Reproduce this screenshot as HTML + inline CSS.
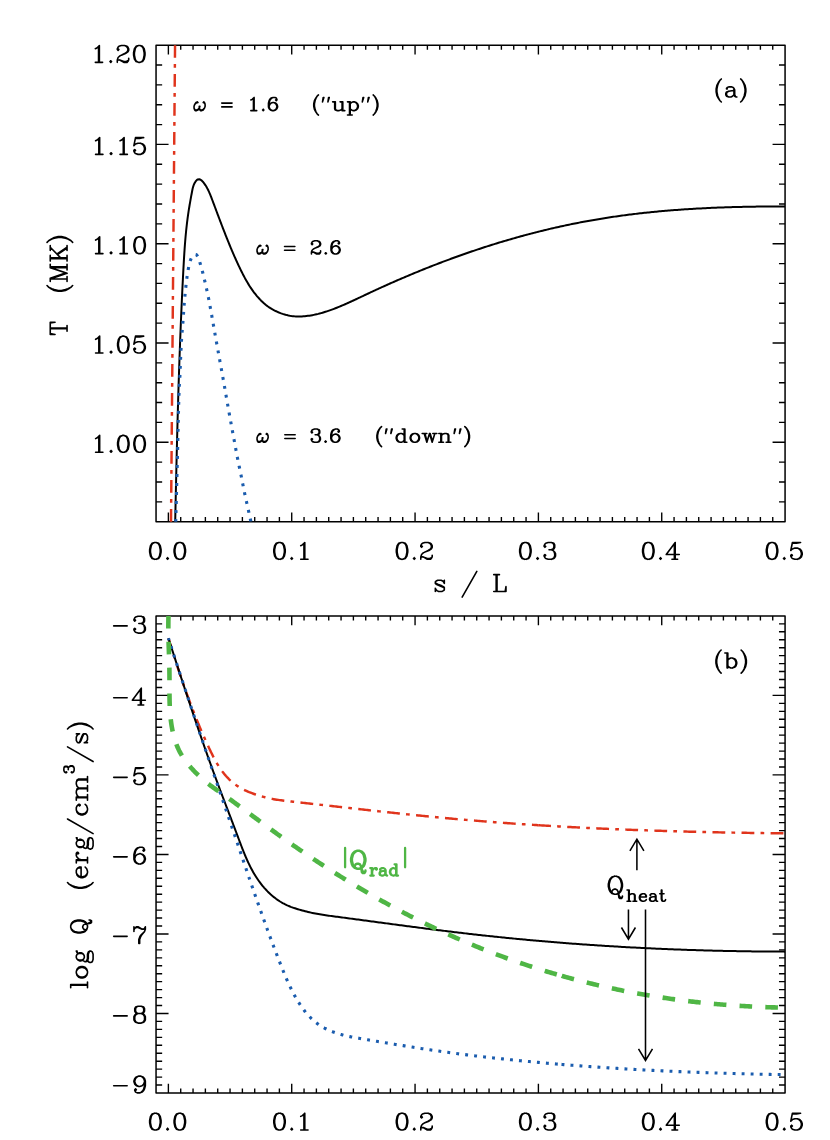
<!DOCTYPE html>
<html><head><meta charset="utf-8"><title>fig</title><style>html,body{margin:0;padding:0;background:#fff}svg{display:block}</style></head><body>
<svg width="830" height="1140" viewBox="0 0 830 1140">
<defs><clipPath id="ca"><rect x="156.05" y="45.15" width="629.02" height="476.55"/></clipPath><clipPath id="cb"><rect x="156.05" y="615.90" width="629.02" height="477.10"/></clipPath></defs>
<rect width="830" height="1140" fill="#fff"/>
<path d="M156.05 442.27 h12.50 M785.07 442.27 h-12.50 M156.05 342.99 h12.50 M785.07 342.99 h-12.50 M156.05 243.71 h12.50 M785.07 243.71 h-12.50 M156.05 144.43 h12.50 M785.07 144.43 h-12.50 M156.05 501.84 h6.10 M785.07 501.84 h-6.10 M156.05 481.99 h6.10 M785.07 481.99 h-6.10 M156.05 462.13 h6.10 M785.07 462.13 h-6.10 M156.05 422.42 h6.10 M785.07 422.42 h-6.10 M156.05 402.56 h6.10 M785.07 402.56 h-6.10 M156.05 382.71 h6.10 M785.07 382.71 h-6.10 M156.05 362.85 h6.10 M785.07 362.85 h-6.10 M156.05 323.14 h6.10 M785.07 323.14 h-6.10 M156.05 303.28 h6.10 M785.07 303.28 h-6.10 M156.05 283.42 h6.10 M785.07 283.42 h-6.10 M156.05 263.57 h6.10 M785.07 263.57 h-6.10 M156.05 223.86 h6.10 M785.07 223.86 h-6.10 M156.05 204.00 h6.10 M785.07 204.00 h-6.10 M156.05 184.14 h6.10 M785.07 184.14 h-6.10 M156.05 164.29 h6.10 M785.07 164.29 h-6.10 M156.05 124.58 h6.10 M785.07 124.58 h-6.10 M156.05 104.72 h6.10 M785.07 104.72 h-6.10 M156.05 84.86 h6.10 M785.07 84.86 h-6.10 M156.05 65.01 h6.10 M785.07 65.01 h-6.10 M168.38 45.15 v9.30 M168.38 521.70 v-9.30 M291.72 45.15 v9.30 M291.72 521.70 v-9.30 M415.06 45.15 v9.30 M415.06 521.70 v-9.30 M538.40 45.15 v9.30 M538.40 521.70 v-9.30 M661.73 45.15 v9.30 M661.73 521.70 v-9.30 M180.72 45.15 v4.60 M180.72 521.70 v-4.60 M193.05 45.15 v4.60 M193.05 521.70 v-4.60 M205.38 45.15 v4.60 M205.38 521.70 v-4.60 M217.72 45.15 v4.60 M217.72 521.70 v-4.60 M230.05 45.15 v4.60 M230.05 521.70 v-4.60 M242.39 45.15 v4.60 M242.39 521.70 v-4.60 M254.72 45.15 v4.60 M254.72 521.70 v-4.60 M267.05 45.15 v4.60 M267.05 521.70 v-4.60 M279.39 45.15 v4.60 M279.39 521.70 v-4.60 M304.05 45.15 v4.60 M304.05 521.70 v-4.60 M316.39 45.15 v4.60 M316.39 521.70 v-4.60 M328.72 45.15 v4.60 M328.72 521.70 v-4.60 M341.06 45.15 v4.60 M341.06 521.70 v-4.60 M353.39 45.15 v4.60 M353.39 521.70 v-4.60 M365.72 45.15 v4.60 M365.72 521.70 v-4.60 M378.06 45.15 v4.60 M378.06 521.70 v-4.60 M390.39 45.15 v4.60 M390.39 521.70 v-4.60 M402.72 45.15 v4.60 M402.72 521.70 v-4.60 M427.39 45.15 v4.60 M427.39 521.70 v-4.60 M439.73 45.15 v4.60 M439.73 521.70 v-4.60 M452.06 45.15 v4.60 M452.06 521.70 v-4.60 M464.39 45.15 v4.60 M464.39 521.70 v-4.60 M476.73 45.15 v4.60 M476.73 521.70 v-4.60 M489.06 45.15 v4.60 M489.06 521.70 v-4.60 M501.39 45.15 v4.60 M501.39 521.70 v-4.60 M513.73 45.15 v4.60 M513.73 521.70 v-4.60 M526.06 45.15 v4.60 M526.06 521.70 v-4.60 M550.73 45.15 v4.60 M550.73 521.70 v-4.60 M563.06 45.15 v4.60 M563.06 521.70 v-4.60 M575.40 45.15 v4.60 M575.40 521.70 v-4.60 M587.73 45.15 v4.60 M587.73 521.70 v-4.60 M600.06 45.15 v4.60 M600.06 521.70 v-4.60 M612.40 45.15 v4.60 M612.40 521.70 v-4.60 M624.73 45.15 v4.60 M624.73 521.70 v-4.60 M637.07 45.15 v4.60 M637.07 521.70 v-4.60 M649.40 45.15 v4.60 M649.40 521.70 v-4.60 M674.07 45.15 v4.60 M674.07 521.70 v-4.60 M686.40 45.15 v4.60 M686.40 521.70 v-4.60 M698.73 45.15 v4.60 M698.73 521.70 v-4.60 M711.07 45.15 v4.60 M711.07 521.70 v-4.60 M723.40 45.15 v4.60 M723.40 521.70 v-4.60 M735.74 45.15 v4.60 M735.74 521.70 v-4.60 M748.07 45.15 v4.60 M748.07 521.70 v-4.60 M760.40 45.15 v4.60 M760.40 521.70 v-4.60 M772.74 45.15 v4.60 M772.74 521.70 v-4.60" fill="none" stroke="#000" stroke-width="1.38" stroke-linecap="butt"/>
<path d="M156.05 45.15 H785.07 V521.70 H156.05 Z" fill="none" stroke="#000" stroke-width="1.50" stroke-linejoin="round"/>
<path d="M171.00 521.70 L175.05 45.15" stroke="#e0341c" stroke-width="2.45" fill="none" stroke-dasharray="12.8 6.2 3.7 6.3"/>
<path d="M175.20 521.70 L175.23 520.20 L175.26 518.70 L175.30 517.21 L175.33 515.71 L175.36 514.21 L175.39 512.71 L175.43 511.21 L175.46 509.72 L175.49 508.22 L175.52 506.72 L175.56 505.22 L175.59 503.72 L175.62 502.23 L175.66 500.73 L175.69 499.23 L175.72 497.73 L175.75 496.23 L175.79 494.73 L175.82 493.24 L175.85 491.74 L175.89 490.24 L175.92 488.74 L175.95 487.24 L175.99 485.75 L176.02 484.25 L176.05 482.75 L176.09 481.25 L176.12 479.75 L176.16 478.26 L176.19 476.76 L176.22 475.26 L176.26 473.76 L176.29 472.26 L176.33 470.77 L176.36 469.27 L176.40 467.77 L176.43 466.27 L176.47 464.77 L176.50 463.28 L176.54 461.78 L176.57 460.28 L176.61 458.78 L176.64 457.28 L176.68 455.79 L176.72 454.29 L176.75 452.79 L176.79 451.29 L176.83 449.79 L176.86 448.30 L176.90 446.80 L176.94 445.30 L176.97 443.80 L177.01 442.30 L177.05 440.81 L177.09 439.31 L177.12 437.81 L177.16 436.31 L177.20 434.82 L177.24 433.32 L177.28 431.82 L177.32 430.32 L177.36 428.82 L177.40 427.33 L177.44 425.83 L177.48 424.33 L177.52 422.83 L177.56 421.33 L177.60 419.84 L177.64 418.34 L177.68 416.84 L177.72 415.34 L177.76 413.84 L177.80 412.35 L177.85 410.85 L177.89 409.35 L177.93 407.85 L177.97 406.36 L178.02 404.86 L178.06 403.36 L178.10 401.86 L178.15 400.36 L178.19 398.87 L178.23 397.37 L178.28 395.87 L178.32 394.37 L178.37 392.88 L178.41 391.38 L178.46 389.88 L178.51 388.38 L178.55 386.89 L178.60 385.39 L178.65 383.89 L178.69 382.39 L178.74 380.89 L178.79 379.40 L178.84 377.90 L178.89 376.40 L178.94 374.90 L178.98 373.41 L179.03 371.91 L179.08 370.41 L179.13 368.91 L179.18 367.42 L179.24 365.92 L179.29 364.42 L179.34 362.92 L179.39 361.43 L179.44 359.93 L179.50 358.43 L179.55 356.93 L179.60 355.44 L179.66 353.94 L179.71 352.44 L179.76 350.94 L179.82 349.45 L179.87 347.95 L179.93 346.45 L179.99 344.95 L180.04 343.46 L180.10 341.96 L180.16 340.46 L180.21 338.96 L180.27 337.47 L180.33 335.97 L180.39 334.47 L180.45 332.98 L180.51 331.48 L180.57 329.98 L180.63 328.48 L180.69 326.99 L180.75 325.49 L180.81 323.99 L180.88 322.50 L180.94 321.00 L181.00 319.50 L181.07 318.00 L181.13 316.51 L181.19 315.01 L181.26 313.51 L181.32 312.02 L181.39 310.52 L181.46 309.02 L181.52 307.53 L181.59 306.03 L181.66 304.53 L181.73 303.03 L181.79 301.54 L181.86 300.04 L181.93 298.54 L182.00 297.05 L182.07 295.55 L182.15 294.05 L182.22 292.56 L182.29 291.06 L182.36 289.56 L182.44 288.07 L182.51 286.57 L182.58 285.07 L182.66 283.58 L182.73 282.08 L182.81 280.58 L182.89 279.09 L182.96 277.59 L183.04 276.10 L183.12 274.60 L183.20 273.10 L183.27 271.61 L183.35 270.11 L183.43 268.61 L183.51 267.12 L183.60 265.62 L183.68 264.13 L183.76 262.63 L183.85 261.13 L183.93 259.64 L184.02 258.14 L184.11 256.65 L184.21 255.15 L184.30 253.65 L184.40 252.16 L184.50 250.66 L184.60 249.17 L184.70 247.67 L184.81 246.18 L184.92 244.69 L185.04 243.19 L185.15 241.70 L185.28 240.20 L185.40 238.71 L185.53 237.22 L185.66 235.73 L185.80 234.23 L185.95 232.74 L186.09 231.25 L186.24 229.76 L186.40 228.27 L186.56 226.78 L186.73 225.29 L186.90 223.80 L187.08 222.32 L187.27 220.83 L187.46 219.34 L187.65 217.86 L187.86 216.37 L188.07 214.89 L188.28 213.41 L188.50 211.92 L188.73 210.44 L188.96 208.96 L189.20 207.48 L189.45 206.01 L189.69 204.53 L189.95 203.05 L190.21 201.57 L190.47 200.10 L190.73 198.62 L191.00 197.15 L191.27 195.68 L191.55 194.20 L191.83 192.73 L192.11 191.26 L192.40 189.79 L192.72 188.33 L193.10 186.88 L193.56 185.45 L194.13 184.07 L194.81 182.73 L195.61 181.46 L196.56 180.30 L197.74 179.41 L199.20 179.19 L200.59 179.73 L201.78 180.64 L202.82 181.71 L203.77 182.87 L204.66 184.08 L205.51 185.32 L206.30 186.59 L207.05 187.88 L207.76 189.21 L208.42 190.55 L209.05 191.91 L209.65 193.28 L210.23 194.66 L210.78 196.05 L211.32 197.45 L211.85 198.85 L212.38 200.26 L212.91 201.66 L213.44 203.06 L213.96 204.46 L214.49 205.87 L215.01 207.27 L215.54 208.67 L216.07 210.08 L216.59 211.48 L217.12 212.88 L217.64 214.29 L218.17 215.69 L218.70 217.09 L219.23 218.49 L219.76 219.89 L220.29 221.30 L220.82 222.70 L221.35 224.10 L221.89 225.50 L222.43 226.90 L222.96 228.29 L223.50 229.69 L224.05 231.09 L224.59 232.48 L225.14 233.88 L225.69 235.27 L226.24 236.67 L226.79 238.06 L227.35 239.45 L227.91 240.84 L228.47 242.23 L229.04 243.62 L229.61 245.00 L230.18 246.39 L230.76 247.77 L231.34 249.15 L231.93 250.53 L232.51 251.91 L233.11 253.28 L233.70 254.66 L234.30 256.03 L234.91 257.40 L235.52 258.77 L236.13 260.14 L236.75 261.50 L237.38 262.86 L238.01 264.22 L238.64 265.58 L239.28 266.93 L239.93 268.29 L240.58 269.64 L241.24 270.98 L241.91 272.32 L242.58 273.66 L243.27 274.99 L243.97 276.32 L244.67 277.64 L245.39 278.95 L246.13 280.26 L246.87 281.56 L247.63 282.85 L248.41 284.13 L249.20 285.41 L250.01 286.67 L250.83 287.92 L251.68 289.16 L252.54 290.38 L253.42 291.60 L254.32 292.79 L255.24 293.97 L256.18 295.14 L257.14 296.29 L258.13 297.42 L259.14 298.53 L260.16 299.62 L261.21 300.69 L262.29 301.73 L263.38 302.75 L264.50 303.73 L265.64 304.69 L266.80 305.60 L267.99 306.48 L269.20 307.33 L270.44 308.14 L271.70 308.91 L272.98 309.65 L274.28 310.35 L275.61 311.02 L276.97 311.65 L278.34 312.25 L279.74 312.81 L281.15 313.34 L282.59 313.84 L284.03 314.30 L285.49 314.72 L286.96 315.10 L288.44 315.43 L289.93 315.71 L291.42 315.95 L292.91 316.14 L294.41 316.29 L295.90 316.39 L297.40 316.45 L298.90 316.48 L300.40 316.46 L301.90 316.41 L303.39 316.32 L304.89 316.20 L306.38 316.04 L307.87 315.86 L309.35 315.65 L310.84 315.41 L312.32 315.15 L313.79 314.86 L315.26 314.55 L316.73 314.22 L318.20 313.87 L319.65 313.49 L321.11 313.10 L322.56 312.69 L324.00 312.25 L325.44 311.81 L326.88 311.34 L328.31 310.87 L329.73 310.37 L331.15 309.87 L332.57 309.35 L333.98 308.82 L335.39 308.28 L336.79 307.72 L338.19 307.16 L339.58 306.59 L340.97 306.01 L342.36 305.42 L343.74 304.83 L345.12 304.23 L346.50 303.62 L347.87 303.01 L349.24 302.39 L350.61 301.76 L351.97 301.14 L353.33 300.51 L354.70 299.87 L356.05 299.24 L357.41 298.60 L358.77 297.96 L360.13 297.32 L361.48 296.68 L362.84 296.04 L364.19 295.40 L365.54 294.76 L366.90 294.12 L368.25 293.48 L369.61 292.84 L370.97 292.21 L372.33 291.58 L373.68 290.95 L375.04 290.32 L376.40 289.69 L377.76 289.07 L379.12 288.44 L380.48 287.82 L381.85 287.20 L383.21 286.59 L384.57 285.97 L385.94 285.36 L387.30 284.75 L388.67 284.14 L390.04 283.53 L391.40 282.93 L392.77 282.32 L394.14 281.72 L395.51 281.12 L396.88 280.52 L398.25 279.93 L399.63 279.33 L401.00 278.74 L402.37 278.15 L403.75 277.57 L405.12 276.98 L406.50 276.40 L407.88 275.81 L409.26 275.23 L410.63 274.66 L412.01 274.08 L413.39 273.51 L414.78 272.93 L416.16 272.37 L417.54 271.80 L418.92 271.23 L420.31 270.67 L421.70 270.11 L423.08 269.55 L424.47 268.99 L425.86 268.43 L427.25 267.88 L428.64 267.33 L430.03 266.78 L431.42 266.23 L432.81 265.69 L434.20 265.15 L435.60 264.61 L436.99 264.07 L438.39 263.53 L439.79 263.00 L441.18 262.46 L442.58 261.93 L443.98 261.41 L445.38 260.88 L446.78 260.36 L448.19 259.84 L449.59 259.32 L450.99 258.80 L452.40 258.28 L453.80 257.77 L455.21 257.26 L456.62 256.75 L458.03 256.25 L459.44 255.74 L460.85 255.24 L462.26 254.74 L463.67 254.25 L465.08 253.75 L466.50 253.26 L467.91 252.77 L469.33 252.28 L470.75 251.79 L472.16 251.31 L473.58 250.83 L475.00 250.35 L476.42 249.88 L477.84 249.40 L479.26 248.93 L480.69 248.46 L482.11 247.99 L483.54 247.53 L484.96 247.07 L486.39 246.61 L487.82 246.15 L489.24 245.70 L490.67 245.24 L492.10 244.79 L493.54 244.35 L494.97 243.90 L496.40 243.46 L497.83 243.02 L499.27 242.58 L500.70 242.15 L502.14 241.71 L503.58 241.28 L505.01 240.86 L506.45 240.43 L507.89 240.01 L509.33 239.59 L510.77 239.17 L512.21 238.76 L513.65 238.34 L515.10 237.93 L516.54 237.53 L517.99 237.12 L519.43 236.72 L520.88 236.32 L522.32 235.93 L523.77 235.53 L525.22 235.14 L526.67 234.75 L528.12 234.37 L529.57 233.98 L531.02 233.60 L532.47 233.22 L533.92 232.85 L535.38 232.48 L536.83 232.11 L538.28 231.74 L539.74 231.38 L541.20 231.01 L542.65 230.66 L544.11 230.30 L545.57 229.95 L547.03 229.60 L548.48 229.25 L549.94 228.90 L551.40 228.56 L552.87 228.22 L554.33 227.89 L555.79 227.55 L557.25 227.22 L558.72 226.90 L560.18 226.57 L561.64 226.25 L563.11 225.93 L564.58 225.61 L566.04 225.30 L567.51 224.99 L568.98 224.68 L570.45 224.38 L571.91 224.08 L573.38 223.78 L574.85 223.48 L576.32 223.19 L577.79 222.90 L579.27 222.61 L580.74 222.33 L582.21 222.05 L583.68 221.77 L585.16 221.49 L586.63 221.22 L588.11 220.95 L589.58 220.69 L591.06 220.42 L592.53 220.16 L594.01 219.91 L595.49 219.65 L596.96 219.40 L598.44 219.15 L599.92 218.91 L601.40 218.67 L602.88 218.43 L604.36 218.19 L605.84 217.96 L607.32 217.73 L608.80 217.50 L610.28 217.28 L611.76 217.05 L613.25 216.83 L614.73 216.62 L616.21 216.40 L617.69 216.19 L619.18 215.99 L620.66 215.78 L622.15 215.58 L623.63 215.38 L625.12 215.18 L626.60 214.99 L628.09 214.80 L629.57 214.61 L631.06 214.42 L632.55 214.24 L634.03 214.06 L635.52 213.88 L637.01 213.70 L638.50 213.53 L639.99 213.36 L641.47 213.19 L642.96 213.02 L644.45 212.86 L645.94 212.70 L647.43 212.54 L648.92 212.39 L650.41 212.23 L651.90 212.08 L653.39 211.94 L654.88 211.79 L656.37 211.65 L657.87 211.50 L659.36 211.37 L660.85 211.23 L662.34 211.10 L663.83 210.96 L665.33 210.83 L666.82 210.71 L668.31 210.58 L669.80 210.46 L671.30 210.34 L672.79 210.22 L674.28 210.11 L675.78 209.99 L677.27 209.88 L678.77 209.77 L680.26 209.66 L681.75 209.56 L683.25 209.45 L684.74 209.35 L686.24 209.25 L687.73 209.16 L689.23 209.06 L690.72 208.97 L692.22 208.88 L693.71 208.79 L695.21 208.70 L696.71 208.62 L698.20 208.54 L699.70 208.45 L701.19 208.38 L702.69 208.30 L704.19 208.22 L705.68 208.15 L707.18 208.08 L708.68 208.01 L710.17 207.94 L711.67 207.87 L713.17 207.81 L714.66 207.75 L716.16 207.68 L717.66 207.62 L719.15 207.57 L720.65 207.51 L722.15 207.46 L723.65 207.40 L725.14 207.35 L726.64 207.30 L728.14 207.26 L729.64 207.21 L731.13 207.16 L732.63 207.12 L734.13 207.08 L735.63 207.04 L737.13 207.00 L738.62 206.96 L740.12 206.93 L741.62 206.89 L743.12 206.86 L744.62 206.83 L746.11 206.80 L747.61 206.77 L749.11 206.74 L750.61 206.71 L752.11 206.69 L753.60 206.67 L755.10 206.64 L756.60 206.62 L758.10 206.60 L759.60 206.58 L761.10 206.57 L762.59 206.55 L764.09 206.54 L765.59 206.52 L767.09 206.51 L768.59 206.50 L770.09 206.49 L771.58 206.48 L773.08 206.47 L774.58 206.46 L776.08 206.45 L777.58 206.45 L779.08 206.45 L780.57 206.44 L782.07 206.44 L783.57 206.44 L785.07 206.44" fill="none" stroke="#000" stroke-width="2.00" stroke-linecap="butt" stroke-linejoin="round" clip-path="url(#ca)"/>
<path d="M175.75 522.00 L175.77 521.40 L175.78 520.79 L175.80 520.19 L175.81 519.58 L175.83 518.98 L175.84 518.37 L175.86 517.77 L175.88 517.16 L175.89 516.56 L175.91 515.95 L175.92 515.35 L175.94 514.74 L175.96 514.14 L175.97 513.53 L175.99 512.93 L176.00 512.32 L176.02 511.72 L176.03 511.11 L176.05 510.51 L176.07 509.90 L176.08 509.30 L176.10 508.69 L176.11 508.09 L176.13 507.48 L176.14 506.88 L176.16 506.27 L176.18 505.67 L176.19 505.07 L176.21 504.46 L176.22 503.86 L176.24 503.25 L176.26 502.65 L176.27 502.04 L176.29 501.44 L176.30 500.83 L176.32 500.23 L176.33 499.62 L176.35 499.02 L176.37 498.41 L176.38 497.81 L176.40 497.20 L176.41 496.60 L176.43 495.99 L176.44 495.39 L176.46 494.78 L176.48 494.18 L176.49 493.57 L176.51 492.97 L176.52 492.36 L176.54 491.76 L176.56 491.15 L176.57 490.55 L176.59 489.94 L176.60 489.34 L176.62 488.73 L176.63 488.13 L176.65 487.53 L176.67 486.92 L176.68 486.32 L176.70 485.71 L176.71 485.11 L176.73 484.50 L176.74 483.90 L176.76 483.29 L176.78 482.69 L176.79 482.08 L176.81 481.48 L176.82 480.87 L176.84 480.27 L176.86 479.66 L176.87 479.06 L176.89 478.45 L176.90 477.85 L176.92 477.24 L176.93 476.64 L176.95 476.03 L176.97 475.43 L176.98 474.82 L177.00 474.22 L177.01 473.61 L177.03 473.01 L177.05 472.40 L177.06 471.80 L177.08 471.20 L177.09 470.59 L177.11 469.99 L177.12 469.38 L177.14 468.78 L177.16 468.17 L177.17 467.57 L177.19 466.96 L177.20 466.36 L177.22 465.75 L177.23 465.15 L177.25 464.54 L177.27 463.94 L177.28 463.33 L177.30 462.73 L177.31 462.12 L177.33 461.52 L177.35 460.91 L177.36 460.31 L177.38 459.70 L177.39 459.10 L177.41 458.49 L177.42 457.89 L177.44 457.28 L177.46 456.68 L177.47 456.07 L177.49 455.47 L177.50 454.87 L177.52 454.26 L177.53 453.66 L177.55 453.05 L177.57 452.45 L177.58 451.84 L177.60 451.24 L177.61 450.63 L177.63 450.03 L177.64 449.42 L177.65 448.82 L177.67 448.21 L177.68 447.61 L177.70 447.00 L177.71 446.40 L177.73 445.79 L177.74 445.19 L177.75 444.58 L177.77 443.98 L177.78 443.37 L177.79 442.77 L177.81 442.16 L177.82 441.56 L177.83 440.95 L177.85 440.35 L177.86 439.74 L177.87 439.14 L177.89 438.53 L177.90 437.93 L177.91 437.32 L177.93 436.72 L177.94 436.11 L177.95 435.51 L177.96 434.90 L177.98 434.30 L177.99 433.69 L178.00 433.09 L178.02 432.48 L178.03 431.88 L178.04 431.27 L178.06 430.67 L178.07 430.06 L178.08 429.46 L178.09 428.85 L178.11 428.25 L178.12 427.64 L178.13 427.04 L178.15 426.43 L178.16 425.83 L178.17 425.22 L178.19 424.62 L178.20 424.01 L178.21 423.41 L178.23 422.80 L178.24 422.20 L178.25 421.59 L178.27 420.99 L178.28 420.38 L178.29 419.78 L178.31 419.17 L178.32 418.57 L178.33 417.96 L178.35 417.36 L178.36 416.75 L178.38 416.15 L178.39 415.54 L178.41 414.94 L178.42 414.33 L178.44 413.73 L178.45 413.12 L178.46 412.52 L178.48 411.91 L178.50 411.31 L178.51 410.70 L178.53 410.10 L178.54 409.49 L178.56 408.89 L178.57 408.28 L178.59 407.68 L178.61 407.07 L178.62 406.47 L178.64 405.87 L178.66 405.26 L178.67 404.66 L178.69 404.05 L178.71 403.45 L178.73 402.84 L178.74 402.24 L178.76 401.63 L178.78 401.03 L178.80 400.42 L178.82 399.82 L178.83 399.21 L178.85 398.61 L178.87 398.00 L178.89 397.40 L178.91 396.80 L178.93 396.19 L178.95 395.59 L178.97 394.98 L178.99 394.38 L179.01 393.77 L179.04 393.17 L179.06 392.56 L179.08 391.96 L179.10 391.36 L179.12 390.75 L179.15 390.15 L179.17 389.54 L179.19 388.94 L179.21 388.33 L179.24 387.73 L179.26 387.12 L179.29 386.52 L179.31 385.92 L179.34 385.31 L179.37 384.71 L179.41 384.10 L179.44 383.50 L179.48 382.90 L179.52 382.29 L179.56 381.69 L179.60 381.09 L179.65 380.48 L179.69 379.88 L179.73 379.27 L179.77 378.67 L179.81 378.07 L179.84 377.46 L179.88 376.86 L179.91 376.25 L179.94 375.65 L179.96 375.05 L179.99 374.44 L180.02 373.84 L180.04 373.23 L180.07 372.63 L180.09 372.02 L180.12 371.42 L180.14 370.81 L180.16 370.21 L180.18 369.60 L180.21 369.00 L180.23 368.40 L180.25 367.79 L180.27 367.19 L180.29 366.58 L180.32 365.98 L180.34 365.37 L180.36 364.77 L180.38 364.16 L180.40 363.56 L180.43 362.95 L180.45 362.35 L180.47 361.74 L180.49 361.14 L180.52 360.54 L180.54 359.93 L180.57 359.33 L180.59 358.72 L180.62 358.12 L180.65 357.51 L180.67 356.91 L180.70 356.30 L180.73 355.70 L180.75 355.09 L180.78 354.49 L180.81 353.89 L180.84 353.28 L180.86 352.68 L180.89 352.07 L180.92 351.47 L180.95 350.86 L180.98 350.26 L181.00 349.65 L181.03 349.05 L181.06 348.45 L181.09 347.84 L181.12 347.24 L181.15 346.63 L181.19 346.03 L181.22 345.42 L181.25 344.82 L181.28 344.22 L181.31 343.61 L181.35 343.01 L181.38 342.40 L181.42 341.80 L181.45 341.20 L181.49 340.59 L181.53 339.99 L181.56 339.39 L181.60 338.78 L181.64 338.18 L181.69 337.57 L181.73 336.97 L181.77 336.37 L181.82 335.76 L181.86 335.16 L181.91 334.56 L181.96 333.96 L182.01 333.35 L182.05 332.75 L182.10 332.15 L182.15 331.54 L182.20 330.94 L182.25 330.34 L182.30 329.73 L182.35 329.13 L182.40 328.53 L182.45 327.92 L182.50 327.32 L182.55 326.72 L182.60 326.12 L182.65 325.51 L182.70 324.91 L182.75 324.31 L182.79 323.70 L182.84 323.10 L182.89 322.50 L182.93 321.89 L182.97 321.29 L183.02 320.69 L183.06 320.08 L183.10 319.48 L183.15 318.88 L183.19 318.27 L183.23 317.67 L183.27 317.06 L183.31 316.46 L183.35 315.86 L183.39 315.25 L183.43 314.65 L183.48 314.05 L183.52 313.44 L183.56 312.84 L183.60 312.23 L183.64 311.63 L183.68 311.03 L183.72 310.42 L183.77 309.82 L183.81 309.22 L183.85 308.61 L183.90 308.01 L183.94 307.41 L183.99 306.80 L184.03 306.20 L184.08 305.60 L184.13 304.99 L184.18 304.39 L184.23 303.79 L184.28 303.19 L184.33 302.58 L184.38 301.98 L184.43 301.38 L184.48 300.77 L184.53 300.17 L184.59 299.57 L184.64 298.97 L184.70 298.36 L184.75 297.76 L184.81 297.16 L184.86 296.56 L184.92 295.95 L184.98 295.35 L185.03 294.75 L185.09 294.15 L185.15 293.54 L185.21 292.94 L185.27 292.34 L185.33 291.74 L185.39 291.14 L185.45 290.53 L185.52 289.93 L185.58 289.33 L185.64 288.73 L185.70 288.13 L185.77 287.53 L185.83 286.92 L185.90 286.32 L185.96 285.72 L186.03 285.12 L186.10 284.52 L186.16 283.92 L186.23 283.32 L186.30 282.71 L186.37 282.11 L186.44 281.51 L186.52 280.91 L186.59 280.31 L186.67 279.71 L186.74 279.11 L186.82 278.51 L186.90 277.91 L186.98 277.31 L187.07 276.71 L187.15 276.11 L187.24 275.51 L187.33 274.92 L187.41 274.32 L187.50 273.72 L187.60 273.12 L187.69 272.52 L187.79 271.92 L187.89 271.33 L187.99 270.73 L188.10 270.13 L188.20 269.54 L188.31 268.95 L188.43 268.35 L188.54 267.76 L188.66 267.16 L188.78 266.56 L188.90 265.96 L189.02 265.36 L189.15 264.76 L189.28 264.17 L189.43 263.57 L189.57 262.99 L189.73 262.40 L189.90 261.83 L190.08 261.26 L190.26 260.70 L190.47 260.14 L190.70 259.56 L190.95 258.98 L191.23 258.40 L191.53 257.84 L191.85 257.30 L192.20 256.80 L192.56 256.35 L192.94 255.95 L193.39 255.58 L193.93 255.21 L194.51 254.87 L195.09 254.62 L195.62 254.50 L196.09 254.59 L196.55 254.90 L196.99 255.37 L197.41 255.93 L197.78 256.53 L198.10 257.11 L198.36 257.62 L198.59 258.16 L198.80 258.71 L198.99 259.29 L199.16 259.88 L199.33 260.47 L199.50 261.07 L199.66 261.67 L199.83 262.26 L200.00 262.84 L200.18 263.42 L200.35 264.00 L200.52 264.58 L200.70 265.16 L200.86 265.74 L201.03 266.32 L201.20 266.90 L201.36 267.48 L201.53 268.07 L201.69 268.65 L201.85 269.23 L202.01 269.82 L202.16 270.40 L202.32 270.99 L202.47 271.57 L202.62 272.16 L202.77 272.74 L202.92 273.33 L203.07 273.92 L203.21 274.50 L203.36 275.09 L203.50 275.68 L203.64 276.27 L203.78 276.86 L203.92 277.45 L204.06 278.03 L204.20 278.62 L204.34 279.21 L204.48 279.80 L204.61 280.39 L204.75 280.98 L204.89 281.57 L205.03 282.16 L205.16 282.75 L205.30 283.34 L205.44 283.93 L205.57 284.52 L205.71 285.11 L205.84 285.70 L205.98 286.29 L206.11 286.88 L206.24 287.47 L206.38 288.06 L206.51 288.65 L206.64 289.24 L206.77 289.83 L206.90 290.42 L207.03 291.01 L207.16 291.60 L207.29 292.19 L207.42 292.79 L207.54 293.38 L207.67 293.97 L207.79 294.56 L207.92 295.15 L208.04 295.75 L208.16 296.34 L208.28 296.93 L208.40 297.52 L208.52 298.12 L208.64 298.71 L208.76 299.30 L208.88 299.90 L208.99 300.49 L209.10 301.08 L209.22 301.68 L209.33 302.27 L209.44 302.87 L209.55 303.46 L209.67 304.06 L209.78 304.65 L209.89 305.25 L209.99 305.84 L210.10 306.44 L210.21 307.03 L210.32 307.63 L210.43 308.22 L210.53 308.82 L210.64 309.41 L210.75 310.01 L210.86 310.61 L210.96 311.20 L211.07 311.80 L211.18 312.39 L211.28 312.99 L211.39 313.58 L211.50 314.18 L211.60 314.77 L211.71 315.37 L211.82 315.96 L211.93 316.56 L212.03 317.16 L212.14 317.75 L212.25 318.35 L212.35 318.94 L212.46 319.54 L212.56 320.13 L212.67 320.73 L212.77 321.33 L212.88 321.92 L212.98 322.52 L213.09 323.11 L213.19 323.71 L213.30 324.31 L213.40 324.90 L213.51 325.50 L213.61 326.09 L213.72 326.69 L213.82 327.28 L213.93 327.88 L214.03 328.48 L214.13 329.07 L214.24 329.67 L214.34 330.26 L214.45 330.86 L214.55 331.46 L214.66 332.05 L214.77 332.65 L214.87 333.24 L214.98 333.84 L215.08 334.43 L215.19 335.03 L215.30 335.63 L215.40 336.22 L215.51 336.82 L215.62 337.41 L215.72 338.01 L215.83 338.60 L215.94 339.20 L216.04 339.79 L216.15 340.39 L216.26 340.99 L216.36 341.58 L216.47 342.18 L216.58 342.77 L216.69 343.37 L216.79 343.96 L216.90 344.56 L217.01 345.15 L217.11 345.75 L217.22 346.34 L217.33 346.94 L217.44 347.54 L217.54 348.13 L217.65 348.73 L217.76 349.32 L217.87 349.92 L217.98 350.51 L218.08 351.11 L218.19 351.70 L218.30 352.30 L218.41 352.89 L218.52 353.49 L218.62 354.08 L218.73 354.68 L218.84 355.27 L218.95 355.87 L219.06 356.46 L219.17 357.06 L219.28 357.65 L219.39 358.25 L219.50 358.84 L219.61 359.44 L219.72 360.03 L219.82 360.63 L219.93 361.23 L220.04 361.82 L220.15 362.42 L220.26 363.01 L220.37 363.61 L220.48 364.20 L220.59 364.80 L220.70 365.39 L220.81 365.99 L220.91 366.58 L221.02 367.18 L221.13 367.77 L221.24 368.37 L221.35 368.96 L221.46 369.56 L221.56 370.15 L221.67 370.75 L221.78 371.34 L221.89 371.94 L221.99 372.53 L222.10 373.13 L222.21 373.73 L222.32 374.32 L222.43 374.92 L222.53 375.51 L222.64 376.11 L222.75 376.70 L222.86 377.30 L222.96 377.89 L223.07 378.49 L223.18 379.08 L223.28 379.68 L223.39 380.27 L223.50 380.87 L223.60 381.47 L223.71 382.06 L223.82 382.66 L223.92 383.25 L224.03 383.85 L224.14 384.44 L224.24 385.04 L224.35 385.64 L224.45 386.23 L224.56 386.83 L224.66 387.42 L224.77 388.02 L224.87 388.61 L224.98 389.21 L225.08 389.81 L225.18 390.40 L225.29 391.00 L225.39 391.59 L225.49 392.19 L225.60 392.79 L225.70 393.38 L225.80 393.98 L225.91 394.58 L226.01 395.17 L226.11 395.77 L226.22 396.36 L226.32 396.96 L226.42 397.56 L226.53 398.15 L226.63 398.75 L226.73 399.35 L226.84 399.94 L226.94 400.54 L227.04 401.13 L227.15 401.73 L227.25 402.33 L227.36 402.92 L227.46 403.52 L227.57 404.11 L227.67 404.71 L227.78 405.30 L227.88 405.90 L227.99 406.50 L228.10 407.09 L228.20 407.69 L228.31 408.28 L228.41 408.88 L228.52 409.47 L228.63 410.07 L228.73 410.67 L228.84 411.26 L228.95 411.86 L229.05 412.45 L229.16 413.05 L229.27 413.64 L229.37 414.24 L229.48 414.83 L229.59 415.43 L229.70 416.02 L229.80 416.62 L229.91 417.22 L230.02 417.81 L230.13 418.41 L230.24 419.00 L230.34 419.60 L230.45 420.19 L230.56 420.79 L230.67 421.38 L230.78 421.98 L230.89 422.57 L231.00 423.17 L231.10 423.76 L231.21 424.36 L231.32 424.95 L231.43 425.55 L231.54 426.14 L231.65 426.74 L231.76 427.33 L231.87 427.93 L231.98 428.52 L232.09 429.12 L232.20 429.71 L232.31 430.31 L232.42 430.90 L232.53 431.50 L232.65 432.09 L232.76 432.69 L232.87 433.28 L232.98 433.88 L233.09 434.47 L233.20 435.07 L233.31 435.66 L233.42 436.26 L233.53 436.85 L233.64 437.44 L233.75 438.04 L233.86 438.63 L233.98 439.23 L234.09 439.82 L234.20 440.42 L234.31 441.01 L234.42 441.61 L234.53 442.20 L234.64 442.80 L234.74 443.39 L234.85 443.99 L234.96 444.58 L235.07 445.18 L235.18 445.77 L235.29 446.37 L235.40 446.96 L235.51 447.56 L235.62 448.15 L235.73 448.75 L235.84 449.35 L235.95 449.94 L236.06 450.53 L236.17 451.13 L236.28 451.72 L236.39 452.32 L236.50 452.91 L236.61 453.51 L236.73 454.10 L236.84 454.70 L236.95 455.29 L237.07 455.89 L237.18 456.48 L237.30 457.07 L237.41 457.67 L237.53 458.26 L237.65 458.85 L237.77 459.45 L237.89 460.04 L238.01 460.63 L238.13 461.23 L238.25 461.82 L238.37 462.41 L238.49 463.00 L238.62 463.60 L238.74 464.19 L238.86 464.78 L238.99 465.37 L239.11 465.96 L239.24 466.56 L239.36 467.15 L239.49 467.74 L239.61 468.33 L239.74 468.93 L239.86 469.52 L239.98 470.11 L240.11 470.70 L240.23 471.29 L240.36 471.89 L240.48 472.48 L240.60 473.07 L240.72 473.66 L240.85 474.26 L240.97 474.85 L241.09 475.44 L241.21 476.03 L241.33 476.63 L241.45 477.22 L241.56 477.81 L241.68 478.41 L241.80 479.00 L241.92 479.60 L242.03 480.19 L242.15 480.78 L242.26 481.38 L242.38 481.97 L242.50 482.56 L242.61 483.16 L242.73 483.75 L242.84 484.35 L242.96 484.94 L243.08 485.53 L243.19 486.13 L243.31 486.72 L243.43 487.31 L243.54 487.91 L243.66 488.50 L243.78 489.10 L243.90 489.69 L244.02 490.28 L244.14 490.87 L244.26 491.47 L244.38 492.06 L244.51 492.65 L244.63 493.24 L244.75 493.84 L244.88 494.43 L245.01 495.02 L245.13 495.61 L245.26 496.20 L245.39 496.79 L245.52 497.38 L245.65 497.97 L245.78 498.57 L245.91 499.16 L246.04 499.75 L246.17 500.34 L246.31 500.93 L246.44 501.52 L246.57 502.11 L246.70 502.70 L246.84 503.29 L246.97 503.88 L247.10 504.47 L247.24 505.06 L247.37 505.65 L247.50 506.24 L247.64 506.83 L247.77 507.42 L247.90 508.01 L248.03 508.60 L248.17 509.19 L248.30 509.78 L248.43 510.37 L248.56 510.96 L248.69 511.56 L248.82 512.15 L248.95 512.74 L249.08 513.33 L249.21 513.92 L249.34 514.51 L249.47 515.10 L249.60 515.69 L249.73 516.28 L249.86 516.87 L249.99 517.46 L250.12 518.05 L250.25 518.65 L250.38 519.24 L250.51 519.83 L250.64 520.42 L250.77 521.01 L250.90 521.60" fill="none" stroke="#1a5cae" stroke-width="3.10" stroke-linecap="butt" stroke-linejoin="round" stroke-dasharray="2.9 6.12" stroke-dashoffset="0.00" clip-path="url(#ca)"/>
<path d="M95.59 140.78 L97.22 139.98 L99.66 137.58 L99.66 154.38 M98.85 138.38 L98.85 154.38 M95.59 154.38 L102.92 154.38 M111.07 152.78 L110.26 153.58 L111.07 154.38 L111.89 153.58 L111.07 152.78 M120.04 140.78 L121.67 139.98 L124.11 137.58 L124.11 154.38 M123.30 138.38 L123.30 154.38 M120.04 154.38 L127.37 154.38 M135.52 137.58 L133.89 145.58 M133.89 145.58 L135.52 143.98 L137.97 143.18 L140.41 143.18 L142.86 143.98 L144.49 145.58 L145.30 147.98 L145.30 149.58 L144.49 151.98 L142.86 153.58 L140.41 154.38 L137.97 154.38 L135.52 153.58 L134.71 152.78 L133.89 151.18 L133.89 150.38 L134.71 149.58 L135.52 150.38 L134.71 151.18 M140.41 143.18 L142.04 143.98 L143.67 145.58 L144.49 147.98 L144.49 149.58 L143.67 151.98 L142.04 153.58 L140.41 154.38 M135.52 137.58 L143.67 137.58 M135.52 138.38 L139.60 138.38 L143.67 137.58" fill="none" stroke="#000" stroke-width="1.60" stroke-linecap="round" stroke-linejoin="round"/>
<path d="M95.59 240.06 L97.22 239.26 L99.66 236.86 L99.66 253.66 M98.85 237.66 L98.85 253.66 M95.59 253.66 L102.92 253.66 M111.07 252.06 L110.26 252.86 L111.07 253.66 L111.89 252.86 L111.07 252.06 M120.04 240.06 L121.67 239.26 L124.11 236.86 L124.11 253.66 M123.30 237.66 L123.30 253.66 M120.04 253.66 L127.37 253.66 M138.78 236.86 L136.34 237.66 L134.71 240.06 L133.89 244.06 L133.89 246.46 L134.71 250.46 L136.34 252.86 L138.78 253.66 L140.41 253.66 L142.86 252.86 L144.49 250.46 L145.30 246.46 L145.30 244.06 L144.49 240.06 L142.86 237.66 L140.41 236.86 L138.78 236.86 M138.78 236.86 L137.15 237.66 L136.34 238.46 L135.52 240.06 L134.71 244.06 L134.71 246.46 L135.52 250.46 L136.34 252.06 L137.15 252.86 L138.78 253.66 M140.41 253.66 L142.04 252.86 L142.86 252.06 L143.67 250.46 L144.49 246.46 L144.49 244.06 L143.67 240.06 L142.86 238.46 L142.04 237.66 L140.41 236.86" fill="none" stroke="#000" stroke-width="1.60" stroke-linecap="round" stroke-linejoin="round"/>
<path d="M95.59 339.34 L97.22 338.54 L99.66 336.14 L99.66 352.94 M98.85 336.94 L98.85 352.94 M95.59 352.94 L102.92 352.94 M111.07 351.34 L110.26 352.14 L111.07 352.94 L111.89 352.14 L111.07 351.34 M122.48 336.14 L120.04 336.94 L118.41 339.34 L117.59 343.34 L117.59 345.74 L118.41 349.74 L120.04 352.14 L122.48 352.94 L124.11 352.94 L126.56 352.14 L128.19 349.74 L129.00 345.74 L129.00 343.34 L128.19 339.34 L126.56 336.94 L124.11 336.14 L122.48 336.14 M122.48 336.14 L120.85 336.94 L120.04 337.74 L119.22 339.34 L118.41 343.34 L118.41 345.74 L119.22 349.74 L120.04 351.34 L120.85 352.14 L122.48 352.94 M124.11 352.94 L125.74 352.14 L126.56 351.34 L127.37 349.74 L128.19 345.74 L128.19 343.34 L127.37 339.34 L126.56 337.74 L125.74 336.94 L124.11 336.14 M135.52 336.14 L133.89 344.14 M133.89 344.14 L135.52 342.54 L137.97 341.74 L140.41 341.74 L142.86 342.54 L144.49 344.14 L145.30 346.54 L145.30 348.14 L144.49 350.54 L142.86 352.14 L140.41 352.94 L137.97 352.94 L135.52 352.14 L134.71 351.34 L133.89 349.74 L133.89 348.94 L134.71 348.14 L135.52 348.94 L134.71 349.74 M140.41 341.74 L142.04 342.54 L143.67 344.14 L144.49 346.54 L144.49 348.14 L143.67 350.54 L142.04 352.14 L140.41 352.94 M135.52 336.14 L143.67 336.14 M135.52 336.94 L139.60 336.94 L143.67 336.14" fill="none" stroke="#000" stroke-width="1.60" stroke-linecap="round" stroke-linejoin="round"/>
<path d="M95.59 438.62 L97.22 437.82 L99.66 435.42 L99.66 452.22 M98.85 436.22 L98.85 452.22 M95.59 452.22 L102.92 452.22 M111.07 450.62 L110.26 451.42 L111.07 452.22 L111.89 451.42 L111.07 450.62 M122.48 435.42 L120.04 436.22 L118.41 438.62 L117.59 442.62 L117.59 445.02 L118.41 449.02 L120.04 451.42 L122.48 452.22 L124.11 452.22 L126.56 451.42 L128.19 449.02 L129.00 445.02 L129.00 442.62 L128.19 438.62 L126.56 436.22 L124.11 435.42 L122.48 435.42 M122.48 435.42 L120.85 436.22 L120.04 437.02 L119.22 438.62 L118.41 442.62 L118.41 445.02 L119.22 449.02 L120.04 450.62 L120.85 451.42 L122.48 452.22 M124.11 452.22 L125.74 451.42 L126.56 450.62 L127.37 449.02 L128.19 445.02 L128.19 442.62 L127.37 438.62 L126.56 437.02 L125.74 436.22 L124.11 435.42 M138.78 435.42 L136.34 436.22 L134.71 438.62 L133.89 442.62 L133.89 445.02 L134.71 449.02 L136.34 451.42 L138.78 452.22 L140.41 452.22 L142.86 451.42 L144.49 449.02 L145.30 445.02 L145.30 442.62 L144.49 438.62 L142.86 436.22 L140.41 435.42 L138.78 435.42 M138.78 435.42 L137.15 436.22 L136.34 437.02 L135.52 438.62 L134.71 442.62 L134.71 445.02 L135.52 449.02 L136.34 450.62 L137.15 451.42 L138.78 452.22 M140.41 452.22 L142.04 451.42 L142.86 450.62 L143.67 449.02 L144.49 445.02 L144.49 442.62 L143.67 438.62 L142.86 437.02 L142.04 436.22 L140.41 435.42" fill="none" stroke="#000" stroke-width="1.60" stroke-linecap="round" stroke-linejoin="round"/>
<path d="M95.29 48.75 L96.92 47.95 L99.36 45.55 L99.36 62.35 M98.55 46.35 L98.55 62.35 M95.29 62.35 L102.62 62.35 M110.77 60.75 L109.96 61.55 L110.77 62.35 L111.59 61.55 L110.77 60.75 M118.11 48.75 L118.92 49.55 L118.11 50.35 L117.29 49.55 L117.29 48.75 L118.11 47.15 L118.92 46.35 L121.37 45.55 L124.62 45.55 L127.07 46.35 L127.89 47.15 L128.70 48.75 L128.70 50.35 L127.89 51.95 L125.44 53.55 L121.37 55.15 L119.74 55.95 L118.11 57.55 L117.29 59.95 L117.29 62.35 M124.62 45.55 L126.26 46.35 L127.07 47.15 L127.89 48.75 L127.89 50.35 L127.07 51.95 L124.62 53.55 L121.37 55.15 M117.29 60.75 L118.11 59.95 L119.74 59.95 L123.81 61.55 L126.26 61.55 L127.89 60.75 L128.70 59.95 M119.74 59.95 L123.81 62.35 L127.07 62.35 L127.89 61.55 L128.70 59.95 L128.70 58.35 M138.48 45.55 L136.04 46.35 L134.41 48.75 L133.59 52.75 L133.59 55.15 L134.41 59.15 L136.04 61.55 L138.48 62.35 L140.11 62.35 L142.56 61.55 L144.19 59.15 L145.00 55.15 L145.00 52.75 L144.19 48.75 L142.56 46.35 L140.11 45.55 L138.48 45.55 M138.48 45.55 L136.85 46.35 L136.04 47.15 L135.22 48.75 L134.41 52.75 L134.41 55.15 L135.22 59.15 L136.04 60.75 L136.85 61.55 L138.48 62.35 M140.11 62.35 L141.74 61.55 L142.56 60.75 L143.37 59.15 L144.19 55.15 L144.19 52.75 L143.37 48.75 L142.56 47.15 L141.74 46.35 L140.11 45.55" fill="none" stroke="#000" stroke-width="1.60" stroke-linecap="round" stroke-linejoin="round"/>
<path d="M154.54 542.50 L152.10 543.30 L150.47 545.70 L149.65 549.70 L149.65 552.10 L150.47 556.10 L152.10 558.50 L154.54 559.30 L156.17 559.30 L158.62 558.50 L160.25 556.10 L161.06 552.10 L161.06 549.70 L160.25 545.70 L158.62 543.30 L156.17 542.50 L154.54 542.50 M154.54 542.50 L152.91 543.30 L152.10 544.10 L151.28 545.70 L150.47 549.70 L150.47 552.10 L151.28 556.10 L152.10 557.70 L152.91 558.50 L154.54 559.30 M156.17 559.30 L157.80 558.50 L158.62 557.70 L159.43 556.10 L160.25 552.10 L160.25 549.70 L159.43 545.70 L158.62 544.10 L157.80 543.30 L156.17 542.50 M167.58 557.70 L166.77 558.50 L167.58 559.30 L168.40 558.50 L167.58 557.70 M178.99 542.50 L176.55 543.30 L174.92 545.70 L174.10 549.70 L174.10 552.10 L174.92 556.10 L176.55 558.50 L178.99 559.30 L180.62 559.30 L183.07 558.50 L184.70 556.10 L185.51 552.10 L185.51 549.70 L184.70 545.70 L183.07 543.30 L180.62 542.50 L178.99 542.50 M178.99 542.50 L177.36 543.30 L176.55 544.10 L175.73 545.70 L174.92 549.70 L174.92 552.10 L175.73 556.10 L176.55 557.70 L177.36 558.50 L178.99 559.30 M180.62 559.30 L182.25 558.50 L183.07 557.70 L183.88 556.10 L184.70 552.10 L184.70 549.70 L183.88 545.70 L183.07 544.10 L182.25 543.30 L180.62 542.50" fill="none" stroke="#000" stroke-width="1.60" stroke-linecap="round" stroke-linejoin="round"/>
<path d="M278.70 542.50 L276.25 543.30 L274.62 545.70 L273.81 549.70 L273.81 552.10 L274.62 556.10 L276.25 558.50 L278.70 559.30 L280.33 559.30 L282.77 558.50 L284.40 556.10 L285.22 552.10 L285.22 549.70 L284.40 545.70 L282.77 543.30 L280.33 542.50 L278.70 542.50 M278.70 542.50 L277.07 543.30 L276.25 544.10 L275.44 545.70 L274.62 549.70 L274.62 552.10 L275.44 556.10 L276.25 557.70 L277.07 558.50 L278.70 559.30 M280.33 559.30 L281.96 558.50 L282.77 557.70 L283.59 556.10 L284.40 552.10 L284.40 549.70 L283.59 545.70 L282.77 544.10 L281.96 543.30 L280.33 542.50 M291.74 557.70 L290.92 558.50 L291.74 559.30 L292.55 558.50 L291.74 557.70 M300.70 545.70 L302.33 544.90 L304.78 542.50 L304.78 559.30 M303.96 543.30 L303.96 559.30 M300.70 559.30 L308.04 559.30" fill="none" stroke="#000" stroke-width="1.60" stroke-linecap="round" stroke-linejoin="round"/>
<path d="M401.22 542.50 L398.77 543.30 L397.14 545.70 L396.33 549.70 L396.33 552.10 L397.14 556.10 L398.77 558.50 L401.22 559.30 L402.85 559.30 L405.29 558.50 L406.92 556.10 L407.74 552.10 L407.74 549.70 L406.92 545.70 L405.29 543.30 L402.85 542.50 L401.22 542.50 M401.22 542.50 L399.59 543.30 L398.77 544.10 L397.96 545.70 L397.14 549.70 L397.14 552.10 L397.96 556.10 L398.77 557.70 L399.59 558.50 L401.22 559.30 M402.85 559.30 L404.48 558.50 L405.29 557.70 L406.11 556.10 L406.92 552.10 L406.92 549.70 L406.11 545.70 L405.29 544.10 L404.48 543.30 L402.85 542.50 M414.26 557.70 L413.44 558.50 L414.26 559.30 L415.07 558.50 L414.26 557.70 M421.59 545.70 L422.41 546.50 L421.59 547.30 L420.78 546.50 L420.78 545.70 L421.59 544.10 L422.41 543.30 L424.85 542.50 L428.11 542.50 L430.56 543.30 L431.37 544.10 L432.19 545.70 L432.19 547.30 L431.37 548.90 L428.93 550.50 L424.85 552.10 L423.22 552.90 L421.59 554.50 L420.78 556.90 L420.78 559.30 M428.11 542.50 L429.74 543.30 L430.56 544.10 L431.37 545.70 L431.37 547.30 L430.56 548.90 L428.11 550.50 L424.85 552.10 M420.78 557.70 L421.59 556.90 L423.22 556.90 L427.30 558.50 L429.74 558.50 L431.37 557.70 L432.19 556.90 M423.22 556.90 L427.30 559.30 L430.56 559.30 L431.37 558.50 L432.19 556.90 L432.19 555.30" fill="none" stroke="#000" stroke-width="1.60" stroke-linecap="round" stroke-linejoin="round"/>
<path d="M524.56 542.50 L522.11 543.30 L520.48 545.70 L519.67 549.70 L519.67 552.10 L520.48 556.10 L522.11 558.50 L524.56 559.30 L526.19 559.30 L528.63 558.50 L530.26 556.10 L531.08 552.10 L531.08 549.70 L530.26 545.70 L528.63 543.30 L526.19 542.50 L524.56 542.50 M524.56 542.50 L522.93 543.30 L522.11 544.10 L521.30 545.70 L520.48 549.70 L520.48 552.10 L521.30 556.10 L522.11 557.70 L522.93 558.50 L524.56 559.30 M526.19 559.30 L527.82 558.50 L528.63 557.70 L529.45 556.10 L530.26 552.10 L530.26 549.70 L529.45 545.70 L528.63 544.10 L527.82 543.30 L526.19 542.50 M537.60 557.70 L536.78 558.50 L537.60 559.30 L538.41 558.50 L537.60 557.70 M544.93 545.70 L545.75 546.50 L544.93 547.30 L544.12 546.50 L544.12 545.70 L544.93 544.10 L545.75 543.30 L548.19 542.50 L551.45 542.50 L553.90 543.30 L554.71 544.90 L554.71 547.30 L553.90 548.90 L551.45 549.70 L549.01 549.70 M551.45 542.50 L553.08 543.30 L553.90 544.90 L553.90 547.30 L553.08 548.90 L551.45 549.70 M551.45 549.70 L553.08 550.50 L554.71 552.10 L555.53 553.70 L555.53 556.10 L554.71 557.70 L553.90 558.50 L551.45 559.30 L548.19 559.30 L545.75 558.50 L544.93 557.70 L544.12 556.10 L544.12 555.30 L544.93 554.50 L545.75 555.30 L544.93 556.10 M553.90 551.30 L554.71 553.70 L554.71 556.10 L553.90 557.70 L553.08 558.50 L551.45 559.30" fill="none" stroke="#000" stroke-width="1.60" stroke-linecap="round" stroke-linejoin="round"/>
<path d="M647.49 542.50 L645.04 543.30 L643.41 545.70 L642.60 549.70 L642.60 552.10 L643.41 556.10 L645.04 558.50 L647.49 559.30 L649.12 559.30 L651.56 558.50 L653.19 556.10 L654.01 552.10 L654.01 549.70 L653.19 545.70 L651.56 543.30 L649.12 542.50 L647.49 542.50 M647.49 542.50 L645.86 543.30 L645.04 544.10 L644.23 545.70 L643.41 549.70 L643.41 552.10 L644.23 556.10 L645.04 557.70 L645.86 558.50 L647.49 559.30 M649.12 559.30 L650.75 558.50 L651.56 557.70 L652.38 556.10 L653.19 552.10 L653.19 549.70 L652.38 545.70 L651.56 544.10 L650.75 543.30 L649.12 542.50 M660.53 557.70 L659.71 558.50 L660.53 559.30 L661.34 558.50 L660.53 557.70 M674.38 544.10 L674.38 559.30 M675.20 542.50 L675.20 559.30 M675.20 542.50 L666.23 554.50 L679.27 554.50 M671.94 559.30 L677.64 559.30" fill="none" stroke="#000" stroke-width="1.60" stroke-linecap="round" stroke-linejoin="round"/>
<path d="M771.23 542.50 L768.78 543.30 L767.15 545.70 L766.34 549.70 L766.34 552.10 L767.15 556.10 L768.78 558.50 L771.23 559.30 L772.86 559.30 L775.30 558.50 L776.93 556.10 L777.75 552.10 L777.75 549.70 L776.93 545.70 L775.30 543.30 L772.86 542.50 L771.23 542.50 M771.23 542.50 L769.60 543.30 L768.78 544.10 L767.97 545.70 L767.15 549.70 L767.15 552.10 L767.97 556.10 L768.78 557.70 L769.60 558.50 L771.23 559.30 M772.86 559.30 L774.49 558.50 L775.30 557.70 L776.12 556.10 L776.93 552.10 L776.93 549.70 L776.12 545.70 L775.30 544.10 L774.49 543.30 L772.86 542.50 M784.27 557.70 L783.45 558.50 L784.27 559.30 L785.09 558.50 L784.27 557.70 M792.42 542.50 L790.79 550.50 M790.79 550.50 L792.42 548.90 L794.87 548.10 L797.31 548.10 L799.75 548.90 L801.38 550.50 L802.20 552.90 L802.20 554.50 L801.38 556.90 L799.75 558.50 L797.31 559.30 L794.87 559.30 L792.42 558.50 L791.61 557.70 L790.79 556.10 L790.79 555.30 L791.61 554.50 L792.42 555.30 L791.61 556.10 M797.31 548.10 L798.94 548.90 L800.57 550.50 L801.38 552.90 L801.38 554.50 L800.57 556.90 L798.94 558.50 L797.31 559.30 M792.42 542.50 L800.57 542.50 M792.42 543.30 L796.50 543.30 L800.57 542.50" fill="none" stroke="#000" stroke-width="1.60" stroke-linecap="round" stroke-linejoin="round"/>
<path d="M156.05 695.42 h12.50 M785.07 695.42 h-12.50 M156.05 774.93 h12.50 M785.07 774.93 h-12.50 M156.05 854.45 h12.50 M785.07 854.45 h-12.50 M156.05 933.97 h12.50 M785.07 933.97 h-12.50 M156.05 1013.48 h12.50 M785.07 1013.48 h-12.50 M156.05 1085.05 h6.10 M785.07 1085.05 h-6.10 M156.05 1077.10 h6.10 M785.07 1077.10 h-6.10 M156.05 1069.14 h6.10 M785.07 1069.14 h-6.10 M156.05 1061.19 h6.10 M785.07 1061.19 h-6.10 M156.05 1053.24 h6.10 M785.07 1053.24 h-6.10 M156.05 1045.29 h6.10 M785.07 1045.29 h-6.10 M156.05 1037.34 h6.10 M785.07 1037.34 h-6.10 M156.05 1029.39 h6.10 M785.07 1029.39 h-6.10 M156.05 1021.43 h6.10 M785.07 1021.43 h-6.10 M156.05 1005.53 h6.10 M785.07 1005.53 h-6.10 M156.05 997.58 h6.10 M785.07 997.58 h-6.10 M156.05 989.63 h6.10 M785.07 989.63 h-6.10 M156.05 981.68 h6.10 M785.07 981.68 h-6.10 M156.05 973.73 h6.10 M785.07 973.73 h-6.10 M156.05 965.77 h6.10 M785.07 965.77 h-6.10 M156.05 957.82 h6.10 M785.07 957.82 h-6.10 M156.05 949.87 h6.10 M785.07 949.87 h-6.10 M156.05 941.92 h6.10 M785.07 941.92 h-6.10 M156.05 926.02 h6.10 M785.07 926.02 h-6.10 M156.05 918.06 h6.10 M785.07 918.06 h-6.10 M156.05 910.11 h6.10 M785.07 910.11 h-6.10 M156.05 902.16 h6.10 M785.07 902.16 h-6.10 M156.05 894.21 h6.10 M785.07 894.21 h-6.10 M156.05 886.26 h6.10 M785.07 886.26 h-6.10 M156.05 878.31 h6.10 M785.07 878.31 h-6.10 M156.05 870.35 h6.10 M785.07 870.35 h-6.10 M156.05 862.40 h6.10 M785.07 862.40 h-6.10 M156.05 846.50 h6.10 M785.07 846.50 h-6.10 M156.05 838.55 h6.10 M785.07 838.55 h-6.10 M156.05 830.59 h6.10 M785.07 830.59 h-6.10 M156.05 822.64 h6.10 M785.07 822.64 h-6.10 M156.05 814.69 h6.10 M785.07 814.69 h-6.10 M156.05 806.74 h6.10 M785.07 806.74 h-6.10 M156.05 798.79 h6.10 M785.07 798.79 h-6.10 M156.05 790.84 h6.10 M785.07 790.84 h-6.10 M156.05 782.88 h6.10 M785.07 782.88 h-6.10 M156.05 766.98 h6.10 M785.07 766.98 h-6.10 M156.05 759.03 h6.10 M785.07 759.03 h-6.10 M156.05 751.08 h6.10 M785.07 751.08 h-6.10 M156.05 743.13 h6.10 M785.07 743.13 h-6.10 M156.05 735.17 h6.10 M785.07 735.17 h-6.10 M156.05 727.22 h6.10 M785.07 727.22 h-6.10 M156.05 719.27 h6.10 M785.07 719.27 h-6.10 M156.05 711.32 h6.10 M785.07 711.32 h-6.10 M156.05 703.37 h6.10 M785.07 703.37 h-6.10 M156.05 687.46 h6.10 M785.07 687.46 h-6.10 M156.05 679.51 h6.10 M785.07 679.51 h-6.10 M156.05 671.56 h6.10 M785.07 671.56 h-6.10 M156.05 663.61 h6.10 M785.07 663.61 h-6.10 M156.05 655.66 h6.10 M785.07 655.66 h-6.10 M156.05 647.71 h6.10 M785.07 647.71 h-6.10 M156.05 639.75 h6.10 M785.07 639.75 h-6.10 M156.05 631.80 h6.10 M785.07 631.80 h-6.10 M156.05 623.85 h6.10 M785.07 623.85 h-6.10 M168.38 615.90 v9.30 M168.38 1093.00 v-9.30 M291.72 615.90 v9.30 M291.72 1093.00 v-9.30 M415.06 615.90 v9.30 M415.06 1093.00 v-9.30 M538.40 615.90 v9.30 M538.40 1093.00 v-9.30 M661.73 615.90 v9.30 M661.73 1093.00 v-9.30 M180.72 615.90 v4.60 M180.72 1093.00 v-4.60 M193.05 615.90 v4.60 M193.05 1093.00 v-4.60 M205.38 615.90 v4.60 M205.38 1093.00 v-4.60 M217.72 615.90 v4.60 M217.72 1093.00 v-4.60 M230.05 615.90 v4.60 M230.05 1093.00 v-4.60 M242.39 615.90 v4.60 M242.39 1093.00 v-4.60 M254.72 615.90 v4.60 M254.72 1093.00 v-4.60 M267.05 615.90 v4.60 M267.05 1093.00 v-4.60 M279.39 615.90 v4.60 M279.39 1093.00 v-4.60 M304.05 615.90 v4.60 M304.05 1093.00 v-4.60 M316.39 615.90 v4.60 M316.39 1093.00 v-4.60 M328.72 615.90 v4.60 M328.72 1093.00 v-4.60 M341.06 615.90 v4.60 M341.06 1093.00 v-4.60 M353.39 615.90 v4.60 M353.39 1093.00 v-4.60 M365.72 615.90 v4.60 M365.72 1093.00 v-4.60 M378.06 615.90 v4.60 M378.06 1093.00 v-4.60 M390.39 615.90 v4.60 M390.39 1093.00 v-4.60 M402.72 615.90 v4.60 M402.72 1093.00 v-4.60 M427.39 615.90 v4.60 M427.39 1093.00 v-4.60 M439.73 615.90 v4.60 M439.73 1093.00 v-4.60 M452.06 615.90 v4.60 M452.06 1093.00 v-4.60 M464.39 615.90 v4.60 M464.39 1093.00 v-4.60 M476.73 615.90 v4.60 M476.73 1093.00 v-4.60 M489.06 615.90 v4.60 M489.06 1093.00 v-4.60 M501.39 615.90 v4.60 M501.39 1093.00 v-4.60 M513.73 615.90 v4.60 M513.73 1093.00 v-4.60 M526.06 615.90 v4.60 M526.06 1093.00 v-4.60 M550.73 615.90 v4.60 M550.73 1093.00 v-4.60 M563.06 615.90 v4.60 M563.06 1093.00 v-4.60 M575.40 615.90 v4.60 M575.40 1093.00 v-4.60 M587.73 615.90 v4.60 M587.73 1093.00 v-4.60 M600.06 615.90 v4.60 M600.06 1093.00 v-4.60 M612.40 615.90 v4.60 M612.40 1093.00 v-4.60 M624.73 615.90 v4.60 M624.73 1093.00 v-4.60 M637.07 615.90 v4.60 M637.07 1093.00 v-4.60 M649.40 615.90 v4.60 M649.40 1093.00 v-4.60 M674.07 615.90 v4.60 M674.07 1093.00 v-4.60 M686.40 615.90 v4.60 M686.40 1093.00 v-4.60 M698.73 615.90 v4.60 M698.73 1093.00 v-4.60 M711.07 615.90 v4.60 M711.07 1093.00 v-4.60 M723.40 615.90 v4.60 M723.40 1093.00 v-4.60 M735.74 615.90 v4.60 M735.74 1093.00 v-4.60 M748.07 615.90 v4.60 M748.07 1093.00 v-4.60 M760.40 615.90 v4.60 M760.40 1093.00 v-4.60 M772.74 615.90 v4.60 M772.74 1093.00 v-4.60" fill="none" stroke="#000" stroke-width="1.38" stroke-linecap="butt"/>
<path d="M156.05 615.90 H785.07 V1093.00 H156.05 Z" fill="none" stroke="#000" stroke-width="1.50" stroke-linejoin="round"/>
<path d="M168.45 638.30 L168.89 639.73 L169.33 641.17 L169.77 642.60 L170.21 644.03 L170.66 645.47 L171.10 646.90 L171.55 648.33 L172.00 649.76 L172.45 651.19 L172.90 652.62 L173.36 654.05 L173.81 655.48 L174.27 656.91 L174.73 658.33 L175.19 659.76 L175.65 661.19 L176.11 662.61 L176.58 664.04 L177.04 665.46 L177.51 666.89 L177.98 668.31 L178.46 669.74 L178.93 671.16 L179.41 672.58 L179.89 674.00 L180.37 675.42 L180.85 676.84 L181.33 678.26 L181.82 679.68 L182.31 681.10 L182.80 682.51 L183.30 683.93 L183.79 685.34 L184.29 686.76 L184.79 688.17 L185.29 689.59 L185.80 691.00 L186.30 692.41 L186.81 693.82 L187.32 695.23 L187.84 696.64 L188.36 698.04 L188.88 699.45 L189.40 700.86 L189.92 702.26 L190.45 703.66 L190.98 705.07 L191.52 706.47 L192.05 707.87 L192.59 709.27 L193.13 710.67 L193.68 712.06 L194.23 713.46 L194.78 714.85 L195.33 716.25 L195.89 717.64 L196.45 719.03 L197.01 720.42 L197.58 721.81 L198.15 723.19 L198.72 724.58 L199.30 725.96 L199.88 727.35 L200.47 728.73 L201.05 730.11 L201.64 731.49 L202.24 732.86 L202.84 734.24 L203.44 735.61 L204.04 736.98 L204.65 738.36 L205.26 739.72 L205.88 741.09 L206.50 742.46 L207.12 743.82 L207.75 745.18 L208.38 746.54 L209.01 747.90 L209.65 749.26 L210.29 750.61 L210.94 751.97 L211.60 753.31 L212.27 754.66 L212.94 756.00 L213.63 757.33 L214.33 758.66 L215.04 759.98 L215.76 761.29 L216.51 762.59 L217.26 763.89 L218.04 765.17 L218.84 766.44 L219.65 767.70 L220.49 768.94 L221.35 770.17 L222.23 771.38 L223.14 772.57 L224.08 773.75 L225.04 774.90 L226.02 776.03 L227.03 777.14 L228.07 778.22 L229.13 779.28 L230.22 780.31 L231.34 781.31 L232.47 782.29 L233.64 783.23 L234.82 784.15 L236.04 785.04 L237.27 785.89 L238.53 786.71 L239.80 787.49 L241.10 788.25 L242.41 788.97 L243.74 789.66 L245.09 790.32 L246.45 790.95 L247.82 791.56 L249.20 792.14 L250.60 792.69 L252.00 793.22 L253.41 793.73 L254.83 794.22 L256.26 794.70 L257.70 795.16 L259.13 795.61 L260.58 796.04 L262.03 796.46 L263.48 796.87 L264.94 797.25 L266.40 797.62 L267.87 797.98 L269.34 798.31 L270.81 798.62 L272.28 798.92 L273.75 799.19 L275.23 799.44 L276.71 799.67 L278.19 799.90 L279.67 800.11 L281.15 800.31 L282.64 800.51 L284.12 800.70 L285.61 800.88 L287.09 801.05 L288.58 801.22 L290.07 801.39 L291.55 801.55 L293.04 801.72 L294.53 801.88 L296.02 802.05 L297.50 802.21 L298.99 802.37 L300.48 802.54 L301.97 802.70 L303.46 802.87 L304.94 803.03 L306.43 803.20 L307.92 803.36 L309.41 803.53 L310.90 803.70 L312.39 803.86 L313.87 804.03 L315.36 804.20 L316.85 804.36 L318.34 804.53 L319.83 804.70 L321.32 804.86 L322.81 805.03 L324.30 805.20 L325.79 805.36 L327.27 805.53 L328.76 805.70 L330.25 805.87 L331.74 806.03 L333.23 806.20 L334.72 806.37 L336.21 806.54 L337.70 806.70 L339.19 806.87 L340.68 807.04 L342.17 807.21 L343.66 807.37 L345.15 807.54 L346.64 807.71 L348.13 807.88 L349.62 808.04 L351.11 808.21 L352.60 808.38 L354.09 808.54 L355.58 808.71 L357.07 808.88 L358.56 809.04 L360.05 809.21 L361.54 809.37 L363.03 809.54 L364.53 809.70 L366.02 809.87 L367.51 810.03 L369.00 810.20 L370.49 810.36 L371.98 810.53 L373.47 810.69 L374.96 810.86 L376.45 811.02 L377.95 811.18 L379.44 811.35 L380.93 811.51 L382.42 811.67 L383.91 811.83 L385.40 811.99 L386.89 812.15 L388.39 812.32 L389.88 812.48 L391.37 812.64 L392.86 812.80 L394.35 812.95 L395.85 813.11 L397.34 813.27 L398.83 813.43 L400.32 813.59 L401.81 813.74 L403.31 813.90 L404.80 814.06 L406.29 814.21 L407.78 814.37 L409.28 814.52 L410.77 814.67 L412.26 814.83 L413.76 814.98 L415.25 815.13 L416.74 815.28 L418.23 815.44 L419.73 815.59 L421.22 815.74 L422.71 815.88 L424.21 816.03 L425.70 816.18 L427.19 816.33 L428.69 816.48 L430.18 816.62 L431.67 816.77 L433.17 816.91 L434.66 817.05 L436.15 817.20 L437.65 817.34 L439.14 817.48 L440.63 817.62 L442.13 817.76 L443.62 817.90 L445.11 818.04 L446.61 818.18 L448.10 818.32 L449.60 818.45 L451.09 818.59 L452.58 818.72 L454.08 818.86 L455.57 818.99 L457.07 819.12 L458.56 819.25 L460.06 819.38 L461.55 819.51 L463.04 819.64 L464.54 819.77 L466.03 819.90 L467.53 820.02 L469.02 820.15 L470.52 820.28 L472.01 820.40 L473.51 820.53 L475.00 820.65 L476.50 820.77 L477.99 820.89 L479.49 821.01 L480.98 821.13 L482.48 821.25 L483.97 821.37 L485.47 821.49 L486.96 821.61 L488.46 821.72 L489.95 821.84 L491.45 821.95 L492.94 822.07 L494.44 822.18 L495.93 822.30 L497.43 822.41 L498.92 822.52 L500.42 822.63 L501.91 822.74 L503.41 822.85 L504.91 822.96 L506.40 823.07 L507.90 823.17 L509.39 823.28 L510.89 823.39 L512.38 823.49 L513.88 823.60 L515.38 823.70 L516.87 823.80 L518.37 823.90 L519.86 824.01 L521.36 824.11 L522.86 824.21 L524.35 824.31 L525.85 824.41 L527.35 824.51 L528.84 824.60 L530.34 824.70 L531.83 824.80 L533.33 824.89 L534.83 824.99 L536.32 825.08 L537.82 825.18 L538.20 825.20" fill="none" stroke="#e0341c" stroke-width="2.45" stroke-linecap="butt" stroke-linejoin="round" stroke-dasharray="12.8 6.2 3.7 6.37" stroke-dashoffset="1.60" clip-path="url(#cb)"/>
<path d="M538.20 825.20 L539.32 825.27 L540.81 825.36 L542.31 825.45 L543.81 825.54 L545.30 825.63 L546.80 825.72 L548.30 825.81 L549.79 825.90 L551.29 825.99 L552.79 826.08 L554.28 826.16 L555.78 826.25 L557.28 826.33 L558.77 826.42 L560.27 826.50 L561.77 826.59 L563.26 826.67 L564.76 826.75 L566.26 826.83 L567.76 826.92 L569.25 827.00 L570.75 827.08 L572.25 827.16 L573.75 827.23 L575.24 827.31 L576.74 827.39 L578.24 827.47 L579.73 827.54 L581.23 827.62 L582.73 827.69 L584.23 827.77 L585.72 827.84 L587.22 827.91 L588.72 827.99 L590.22 828.06 L591.71 828.13 L593.21 828.20 L594.71 828.27 L596.21 828.34 L597.71 828.41 L599.20 828.48 L600.70 828.55 L602.20 828.62 L603.70 828.68 L605.19 828.75 L606.69 828.82 L608.19 828.88 L609.69 828.95 L611.19 829.01 L612.68 829.07 L614.18 829.14 L615.68 829.20 L617.18 829.26 L618.68 829.32 L620.17 829.39 L621.67 829.45 L623.17 829.51 L624.67 829.57 L626.17 829.62 L627.67 829.68 L629.16 829.74 L630.66 829.80 L632.16 829.86 L633.66 829.91 L635.16 829.97 L636.66 830.02 L638.15 830.08 L639.65 830.13 L641.15 830.19 L642.65 830.24 L644.15 830.29 L645.65 830.34 L647.15 830.40 L648.64 830.45 L650.14 830.50 L651.64 830.55 L653.14 830.60 L654.64 830.65 L656.14 830.70 L657.64 830.75 L659.13 830.79 L660.63 830.84 L662.13 830.89 L663.63 830.94 L665.13 830.98 L666.63 831.03 L668.13 831.07 L669.63 831.12 L671.12 831.16 L672.62 831.21 L674.12 831.25 L675.62 831.29 L677.12 831.33 L678.62 831.38 L680.12 831.42 L681.62 831.46 L683.12 831.50 L684.61 831.54 L686.11 831.58 L687.61 831.62 L689.11 831.66 L690.61 831.70 L692.11 831.73 L693.61 831.77 L695.11 831.81 L696.61 831.85 L698.11 831.88 L699.60 831.92 L701.10 831.95 L702.60 831.99 L704.10 832.02 L705.60 832.06 L707.10 832.09 L708.60 832.13 L710.10 832.16 L711.60 832.19 L713.10 832.23 L714.60 832.26 L716.10 832.29 L717.60 832.32 L719.09 832.35 L720.59 832.38 L722.09 832.41 L723.59 832.44 L725.09 832.47 L726.59 832.50 L728.09 832.53 L729.59 832.56 L731.09 832.58 L732.59 832.61 L734.09 832.64 L735.59 832.67 L737.09 832.69 L738.59 832.72 L740.09 832.74 L741.58 832.77 L743.08 832.80 L744.58 832.82 L746.08 832.84 L747.58 832.87 L749.08 832.89 L750.58 832.92 L752.08 832.94 L753.58 832.96 L755.08 832.98 L756.58 833.01 L758.08 833.03 L759.58 833.05 L761.08 833.07 L762.58 833.09 L764.08 833.11 L765.58 833.13 L767.08 833.15 L768.58 833.17 L770.07 833.19 L771.57 833.21 L773.07 833.23 L774.57 833.24 L776.07 833.26 L777.57 833.28 L779.07 833.30 L780.57 833.31 L782.07 833.33 L783.57 833.35 L785.07 833.36" fill="none" stroke="#e0341c" stroke-width="2.45" stroke-linecap="butt" stroke-linejoin="round" stroke-dasharray="12.8 6.2 3.7 6.37" stroke-dashoffset="0.00" clip-path="url(#cb)"/>
<path d="M168.45 638.30 L168.91 639.73 L169.37 641.15 L169.83 642.58 L170.29 644.00 L170.75 645.43 L171.21 646.85 L171.67 648.28 L172.13 649.70 L172.59 651.13 L173.05 652.55 L173.51 653.98 L173.97 655.40 L174.43 656.83 L174.89 658.25 L175.35 659.68 L175.81 661.10 L176.27 662.53 L176.74 663.95 L177.20 665.38 L177.66 666.80 L178.12 668.23 L178.58 669.65 L179.05 671.08 L179.51 672.50 L179.97 673.93 L180.44 675.35 L180.90 676.77 L181.36 678.20 L181.83 679.62 L182.29 681.05 L182.76 682.47 L183.22 683.89 L183.69 685.32 L184.16 686.74 L184.62 688.16 L185.09 689.59 L185.56 691.01 L186.03 692.43 L186.50 693.85 L186.96 695.28 L187.43 696.70 L187.90 698.12 L188.37 699.54 L188.85 700.96 L189.32 702.39 L189.79 703.81 L190.26 705.23 L190.73 706.65 L191.21 708.07 L191.68 709.49 L192.16 710.91 L192.63 712.33 L193.11 713.75 L193.59 715.17 L194.07 716.59 L194.54 718.01 L195.02 719.43 L195.50 720.85 L195.98 722.27 L196.46 723.69 L196.95 725.10 L197.43 726.52 L197.91 727.94 L198.40 729.36 L198.88 730.77 L199.37 732.19 L199.85 733.61 L200.34 735.02 L200.83 736.44 L201.32 737.85 L201.81 739.27 L202.30 740.68 L202.79 742.10 L203.28 743.51 L203.78 744.93 L204.27 746.34 L204.77 747.75 L205.26 749.17 L205.76 750.58 L206.26 751.99 L206.76 753.40 L207.26 754.82 L207.76 756.23 L208.26 757.64 L208.77 759.05 L209.27 760.46 L209.78 761.87 L210.28 763.28 L210.79 764.69 L211.30 766.10 L211.81 767.50 L212.32 768.91 L212.83 770.32 L213.35 771.73 L213.86 773.13 L214.38 774.54 L214.89 775.95 L215.41 777.35 L215.93 778.76 L216.45 780.16 L216.97 781.56 L217.50 782.97 L218.02 784.37 L218.55 785.77 L219.07 787.18 L219.60 788.58 L220.13 789.98 L220.66 791.38 L221.18 792.78 L221.71 794.18 L222.25 795.58 L222.78 796.98 L223.31 798.38 L223.84 799.78 L224.37 801.18 L224.91 802.58 L225.44 803.98 L225.97 805.38 L226.51 806.78 L227.04 808.18 L227.57 809.58 L228.11 810.98 L228.64 812.38 L229.18 813.78 L229.71 815.18 L230.24 816.58 L230.78 817.98 L231.31 819.38 L231.84 820.78 L232.38 822.18 L232.91 823.58 L233.44 824.98 L233.97 826.38 L234.50 827.78 L235.03 829.18 L235.56 830.58 L236.09 831.98 L236.61 833.38 L237.14 834.78 L237.67 836.19 L238.19 837.59 L238.72 838.99 L239.24 840.40 L239.77 841.80 L240.29 843.20 L240.82 844.60 L241.36 846.00 L241.90 847.40 L242.44 848.79 L242.99 850.19 L243.54 851.58 L244.10 852.97 L244.67 854.35 L245.25 855.74 L245.83 857.11 L246.43 858.49 L247.03 859.86 L247.65 861.22 L248.28 862.58 L248.92 863.94 L249.57 865.28 L250.24 866.62 L250.93 867.96 L251.62 869.28 L252.34 870.60 L253.07 871.90 L253.82 873.20 L254.58 874.49 L255.37 875.77 L256.17 877.03 L256.99 878.28 L257.83 879.52 L258.69 880.75 L259.56 881.97 L260.46 883.17 L261.38 884.35 L262.31 885.52 L263.27 886.67 L264.24 887.81 L265.24 888.93 L266.26 890.03 L267.29 891.11 L268.35 892.17 L269.43 893.21 L270.52 894.23 L271.64 895.23 L272.78 896.20 L273.94 897.15 L275.12 898.07 L276.32 898.97 L277.54 899.84 L278.78 900.68 L280.04 901.49 L281.32 902.27 L282.61 903.02 L283.93 903.73 L285.26 904.41 L286.61 905.06 L287.98 905.68 L289.36 906.26 L290.75 906.82 L292.15 907.34 L293.56 907.84 L294.98 908.31 L296.41 908.76 L297.84 909.20 L299.28 909.62 L300.73 910.03 L302.18 910.43 L303.63 910.82 L305.09 911.21 L306.55 911.58 L308.02 911.95 L309.48 912.30 L310.95 912.64 L312.42 912.96 L313.89 913.27 L315.37 913.55 L316.84 913.82 L318.31 914.08 L319.79 914.33 L321.26 914.58 L322.74 914.81 L324.22 915.03 L325.69 915.25 L327.17 915.46 L328.65 915.67 L330.13 915.87 L331.61 916.07 L333.09 916.27 L334.57 916.46 L336.05 916.66 L337.53 916.85 L339.01 917.05 L340.49 917.24 L341.97 917.44 L343.45 917.63 L344.93 917.83 L346.42 918.03 L347.90 918.22 L349.38 918.42 L350.87 918.62 L352.35 918.82 L353.83 919.01 L355.32 919.21 L356.80 919.41 L358.29 919.61 L359.77 919.81 L361.26 920.00 L362.74 920.20 L364.23 920.40 L365.71 920.60 L367.20 920.80 L368.68 921.00 L370.17 921.20 L371.65 921.39 L373.14 921.59 L374.63 921.79 L376.11 921.99 L377.60 922.19 L379.08 922.39 L380.57 922.59 L382.06 922.79 L383.54 922.98 L385.03 923.18 L386.52 923.38 L388.00 923.58 L389.49 923.78 L390.97 923.98 L392.46 924.17 L393.95 924.37 L395.43 924.57 L396.92 924.76 L398.41 924.96 L399.89 925.16 L401.38 925.35 L402.86 925.55 L404.35 925.75 L405.84 925.94 L407.32 926.14 L408.81 926.33 L410.29 926.53 L411.78 926.72 L413.27 926.91 L414.75 927.11 L416.24 927.30 L417.72 927.49 L419.21 927.69 L420.69 927.88 L422.18 928.07 L423.66 928.26 L425.15 928.45 L426.63 928.64 L428.12 928.83 L429.60 929.02 L431.09 929.21 L432.57 929.40 L434.05 929.58 L435.54 929.77 L437.02 929.96 L438.51 930.14 L439.99 930.33 L441.48 930.51 L442.96 930.70 L444.45 930.88 L445.93 931.06 L447.41 931.24 L448.90 931.42 L450.38 931.61 L451.87 931.79 L453.35 931.96 L454.84 932.14 L456.32 932.32 L457.81 932.50 L459.29 932.67 L460.78 932.85 L462.26 933.03 L463.75 933.20 L465.24 933.37 L466.72 933.54 L468.21 933.72 L469.69 933.89 L471.18 934.06 L472.67 934.23 L474.15 934.39 L475.64 934.56 L477.13 934.73 L478.61 934.89 L480.10 935.06 L481.59 935.22 L483.08 935.39 L484.56 935.55 L486.05 935.71 L487.54 935.87 L489.03 936.03 L490.52 936.19 L492.01 936.35 L493.50 936.50 L494.99 936.66 L496.48 936.82 L497.97 936.97 L499.46 937.12 L500.95 937.28 L502.44 937.43 L503.93 937.58 L505.42 937.73 L506.91 937.88 L508.40 938.03 L509.89 938.18 L511.39 938.32 L512.88 938.47 L514.37 938.62 L515.86 938.76 L517.35 938.90 L518.85 939.05 L520.34 939.19 L521.83 939.33 L523.33 939.47 L524.82 939.61 L526.31 939.75 L527.81 939.89 L529.30 940.02 L530.79 940.16 L532.29 940.29 L533.78 940.43 L535.27 940.56 L536.77 940.69 L538.26 940.83 L539.75 940.96 L541.25 941.09 L542.74 941.22 L544.24 941.35 L545.73 941.47 L547.22 941.60 L548.72 941.73 L550.21 941.85 L551.70 941.97 L553.20 942.10 L554.69 942.22 L556.19 942.34 L557.68 942.46 L559.17 942.58 L560.67 942.70 L562.16 942.82 L563.66 942.94 L565.15 943.06 L566.64 943.17 L568.14 943.29 L569.63 943.40 L571.12 943.51 L572.62 943.63 L574.11 943.74 L575.61 943.85 L577.10 943.96 L578.59 944.07 L580.09 944.18 L581.58 944.28 L583.08 944.39 L584.57 944.50 L586.06 944.60 L587.56 944.71 L589.05 944.81 L590.55 944.91 L592.04 945.01 L593.53 945.12 L595.03 945.22 L596.52 945.31 L598.02 945.41 L599.51 945.51 L601.00 945.61 L602.50 945.70 L603.99 945.80 L605.49 945.89 L606.98 945.99 L608.47 946.08 L609.97 946.17 L611.46 946.26 L612.96 946.35 L614.45 946.44 L615.95 946.53 L617.44 946.62 L618.94 946.71 L620.43 946.80 L621.92 946.88 L623.42 946.97 L624.91 947.05 L626.41 947.13 L627.90 947.22 L629.40 947.30 L630.89 947.38 L632.39 947.46 L633.88 947.54 L635.38 947.62 L636.87 947.69 L638.37 947.77 L639.86 947.85 L641.36 947.92 L642.85 948.00 L644.35 948.07 L645.84 948.14 L647.34 948.22 L648.83 948.29 L650.33 948.36 L651.83 948.43 L653.32 948.50 L654.82 948.57 L656.31 948.63 L657.81 948.70 L659.30 948.77 L660.80 948.83 L662.30 948.90 L663.79 948.96 L665.29 949.02 L666.78 949.09 L668.28 949.15 L669.78 949.21 L671.27 949.27 L672.77 949.33 L674.26 949.39 L675.76 949.44 L677.26 949.50 L678.75 949.56 L680.25 949.61 L681.75 949.67 L683.24 949.72 L684.74 949.77 L686.24 949.82 L687.73 949.88 L689.23 949.93 L690.73 949.98 L692.22 950.03 L693.72 950.07 L695.22 950.12 L696.71 950.17 L698.21 950.21 L699.71 950.26 L701.21 950.30 L702.70 950.35 L704.20 950.39 L705.70 950.43 L707.19 950.48 L708.69 950.52 L710.19 950.56 L711.69 950.60 L713.18 950.63 L714.68 950.67 L716.18 950.71 L717.68 950.75 L719.17 950.78 L720.67 950.82 L722.17 950.85 L723.67 950.88 L725.16 950.92 L726.66 950.95 L728.16 950.98 L729.66 951.01 L731.15 951.04 L732.65 951.07 L734.15 951.10 L735.65 951.12 L737.14 951.15 L738.64 951.18 L740.14 951.20 L741.64 951.23 L743.13 951.25 L744.63 951.27 L746.13 951.30 L747.63 951.32 L749.12 951.34 L750.62 951.36 L752.12 951.38 L753.62 951.40 L755.12 951.42 L756.61 951.43 L758.11 951.45 L759.61 951.47 L761.11 951.48 L762.60 951.49 L764.10 951.51 L765.60 951.52 L767.10 951.53 L768.60 951.55 L770.09 951.56 L771.59 951.57 L773.09 951.58 L774.59 951.58 L776.08 951.59 L777.58 951.60 L779.08 951.61 L780.58 951.61 L782.07 951.62 L783.57 951.62 L785.07 951.63" fill="none" stroke="#000" stroke-width="2.00" stroke-linecap="butt" stroke-linejoin="round" clip-path="url(#cb)"/>
<path d="M168.45 638.30 L168.91 639.73 L169.37 641.15 L169.82 642.58 L170.28 644.00 L170.74 645.43 L171.20 646.85 L171.66 648.28 L172.12 649.70 L172.59 651.13 L173.05 652.55 L173.51 653.98 L173.97 655.40 L174.44 656.83 L174.90 658.25 L175.37 659.67 L175.83 661.10 L176.30 662.52 L176.76 663.95 L177.23 665.37 L177.69 666.79 L178.16 668.21 L178.63 669.64 L179.10 671.06 L179.56 672.48 L180.03 673.91 L180.50 675.33 L180.97 676.75 L181.44 678.17 L181.91 679.59 L182.38 681.02 L182.85 682.44 L183.32 683.86 L183.80 685.28 L184.27 686.70 L184.74 688.12 L185.21 689.54 L185.68 690.97 L186.16 692.39 L186.63 693.81 L187.11 695.23 L187.58 696.65 L188.05 698.07 L188.53 699.49 L189.00 700.91 L189.48 702.33 L189.96 703.75 L190.43 705.17 L190.91 706.59 L191.39 708.01 L191.86 709.43 L192.34 710.85 L192.82 712.27 L193.29 713.69 L193.77 715.11 L194.25 716.53 L194.73 717.95 L195.21 719.36 L195.69 720.78 L196.17 722.20 L196.65 723.62 L197.13 725.04 L197.61 726.46 L198.09 727.88 L198.57 729.30 L199.05 730.71 L199.53 732.13 L200.01 733.55 L200.49 734.97 L200.97 736.39 L201.45 737.81 L201.93 739.22 L202.42 740.64 L202.90 742.06 L203.38 743.48 L203.86 744.90 L204.34 746.31 L204.83 747.73 L205.31 749.15 L205.79 750.57 L206.27 751.99 L206.76 753.40 L207.24 754.82 L207.72 756.24 L208.21 757.66 L208.69 759.07 L209.17 760.49 L209.66 761.91 L210.14 763.33 L210.63 764.74 L211.11 766.16 L211.59 767.58 L212.08 768.99 L212.56 770.41 L213.05 771.83 L213.53 773.25 L214.01 774.66 L214.50 776.08 L214.98 777.50 L215.47 778.92 L215.95 780.33 L216.44 781.75 L216.92 783.17 L217.41 784.58 L217.89 786.00 L218.37 787.42 L218.86 788.84 L219.34 790.25 L219.83 791.67 L220.31 793.09 L220.80 794.50 L221.28 795.92 L221.77 797.34 L222.25 798.76 L222.73 800.17 L223.22 801.59 L223.70 803.01 L224.19 804.42 L224.67 805.84 L225.15 807.26 L225.64 808.68 L226.12 810.09 L226.61 811.51 L227.09 812.93 L227.57 814.35 L228.06 815.76 L228.54 817.18 L229.02 818.60 L229.51 820.02 L229.99 821.43 L230.47 822.85 L230.96 824.27 L231.44 825.69 L231.92 827.10 L232.40 828.52 L232.89 829.94 L233.37 831.36 L233.85 832.78 L234.33 834.19 L234.81 835.61 L235.30 837.03 L235.78 838.45 L236.26 839.87 L236.74 841.29 L237.22 842.70 L237.70 844.12 L238.18 845.54 L238.66 846.96 L239.14 848.38 L239.62 849.80 L240.10 851.21 L240.59 852.63 L241.07 854.05 L241.55 855.47 L242.03 856.89 L242.51 858.31 L242.99 859.72 L243.47 861.14 L243.95 862.56 L244.44 863.98 L244.92 865.40 L245.40 866.81 L245.88 868.23 L246.37 869.65 L246.85 871.07 L247.33 872.49 L247.82 873.90 L248.30 875.32 L248.79 876.74 L249.27 878.15 L249.76 879.57 L250.24 880.99 L250.73 882.40 L251.22 883.82 L251.70 885.24 L252.19 886.65 L252.68 888.07 L253.17 889.48 L253.66 890.90 L254.15 892.31 L254.64 893.73 L255.13 895.14 L255.62 896.56 L256.12 897.97 L256.61 899.39 L257.10 900.80 L257.60 902.21 L258.09 903.63 L258.59 905.04 L259.09 906.45 L259.59 907.86 L260.09 909.28 L260.59 910.69 L261.09 912.10 L261.59 913.51 L262.09 914.92 L262.60 916.33 L263.10 917.74 L263.61 919.15 L264.11 920.56 L264.62 921.97 L265.13 923.38 L265.64 924.79 L266.15 926.19 L266.66 927.60 L267.18 929.01 L267.69 930.42 L268.21 931.82 L268.72 933.23 L269.24 934.63 L269.76 936.04 L270.28 937.44 L270.80 938.85 L271.33 940.25 L271.85 941.65 L272.38 943.05 L272.90 944.46 L273.43 945.86 L273.96 947.26 L274.49 948.66 L275.03 950.06 L275.56 951.46 L276.10 952.86 L276.63 954.25 L277.17 955.65 L277.71 957.05 L278.25 958.44 L278.80 959.84 L279.34 961.24 L279.89 962.63 L280.44 964.02 L280.99 965.42 L281.54 966.81 L282.09 968.20 L282.65 969.59 L283.21 970.98 L283.78 972.36 L284.35 973.75 L284.93 975.13 L285.51 976.51 L286.10 977.89 L286.70 979.26 L287.30 980.63 L287.91 982.00 L288.53 983.36 L289.16 984.72 L289.80 986.08 L290.44 987.43 L291.10 988.77 L291.77 990.11 L292.45 991.45 L293.14 992.78 L293.85 994.10 L294.56 995.41 L295.29 996.72 L296.03 998.02 L296.79 999.32 L297.55 1000.60 L298.34 1001.88 L299.14 1003.15 L299.95 1004.40 L300.79 1005.65 L301.64 1006.88 L302.50 1008.10 L303.39 1009.31 L304.30 1010.50 L305.22 1011.68 L306.17 1012.84 L307.14 1013.98 L308.13 1015.10 L309.14 1016.21 L310.18 1017.29 L311.24 1018.35 L312.32 1019.38 L313.43 1020.39 L314.56 1021.37 L315.71 1022.32 L316.90 1023.24 L318.10 1024.13 L319.33 1024.98 L320.59 1025.80 L321.86 1026.59 L323.16 1027.34 L324.47 1028.06 L325.80 1028.75 L327.14 1029.41 L328.50 1030.04 L329.87 1030.64 L331.26 1031.21 L332.65 1031.76 L334.06 1032.28 L335.47 1032.78 L336.89 1033.25 L338.32 1033.70 L339.75 1034.13 L341.19 1034.54 L342.64 1034.93 L344.09 1035.31 L345.54 1035.66 L347.00 1036.00 L348.46 1036.31 L349.93 1036.62 L351.40 1036.90 L352.87 1037.18 L354.34 1037.45 L355.81 1037.72 L357.29 1037.98 L358.77 1038.23 L360.24 1038.49 L361.72 1038.75 L363.20 1039.00 L364.68 1039.26 L366.16 1039.52 L367.64 1039.77 L369.12 1040.02 L370.60 1040.27 L372.08 1040.52 L373.56 1040.77 L375.04 1041.01 L376.52 1041.26 L377.99 1041.51 L379.47 1041.76 L380.95 1042.00 L382.42 1042.25 L383.90 1042.50 L385.38 1042.74 L386.85 1042.99 L388.33 1043.23 L389.81 1043.48 L391.28 1043.72 L392.76 1043.96 L394.24 1044.20 L395.71 1044.45 L397.19 1044.69 L398.67 1044.93 L400.15 1045.17 L401.62 1045.41 L403.10 1045.65 L404.58 1045.89 L406.06 1046.12 L407.54 1046.36 L409.02 1046.60 L410.50 1046.83 L411.97 1047.06 L413.45 1047.30 L414.93 1047.53 L416.41 1047.76 L417.89 1047.99 L419.37 1048.22 L420.86 1048.45 L422.34 1048.67 L423.82 1048.90 L425.30 1049.12 L426.78 1049.35 L428.26 1049.57 L429.74 1049.79 L431.22 1050.01 L432.71 1050.23 L434.19 1050.45 L435.67 1050.66 L437.15 1050.87 L438.64 1051.09 L440.12 1051.30 L441.60 1051.51 L443.09 1051.72 L444.57 1051.92 L446.05 1052.13 L447.54 1052.33 L449.02 1052.53 L450.50 1052.73 L451.99 1052.93 L453.47 1053.13 L454.96 1053.32 L456.44 1053.52 L457.93 1053.71 L459.41 1053.90 L460.90 1054.09 L462.38 1054.28 L463.87 1054.47 L465.35 1054.65 L466.84 1054.84 L468.33 1055.02 L469.81 1055.20 L471.30 1055.38 L472.78 1055.56 L474.27 1055.74 L475.76 1055.92 L477.24 1056.09 L478.73 1056.27 L480.22 1056.44 L481.70 1056.61 L483.19 1056.78 L484.68 1056.95 L486.17 1057.12 L487.65 1057.29 L489.14 1057.45 L490.63 1057.62 L492.12 1057.78 L493.61 1057.95 L495.10 1058.11 L496.58 1058.27 L498.07 1058.43 L499.56 1058.59 L501.05 1058.75 L502.54 1058.90 L504.03 1059.06 L505.52 1059.22 L507.01 1059.37 L508.50 1059.53 L509.99 1059.68 L511.47 1059.83 L512.96 1059.98 L514.45 1060.13 L515.94 1060.28 L517.43 1060.43 L518.92 1060.58 L520.41 1060.72 L521.91 1060.87 L523.40 1061.01 L524.89 1061.16 L526.38 1061.30 L527.87 1061.44 L529.36 1061.58 L530.85 1061.72 L532.34 1061.86 L533.83 1062.00 L535.32 1062.14 L536.81 1062.27 L538.31 1062.41 L539.80 1062.54 L541.29 1062.68 L542.78 1062.81 L544.27 1062.94 L545.76 1063.08 L547.26 1063.21 L548.75 1063.34 L550.24 1063.46 L551.73 1063.59 L553.22 1063.72 L554.72 1063.85 L556.21 1063.97 L557.70 1064.10 L559.19 1064.22 L560.69 1064.34 L561.50 1064.41" fill="none" stroke="#1a5cae" stroke-width="3.10" stroke-linecap="butt" stroke-linejoin="round" stroke-dasharray="2.9 6.12" stroke-dashoffset="0.80" clip-path="url(#cb)"/>
<path d="M561.50 1064.41 L562.18 1064.46 L563.67 1064.59 L565.16 1064.71 L566.66 1064.83 L568.15 1064.94 L569.64 1065.06 L571.14 1065.18 L572.63 1065.30 L574.12 1065.41 L575.62 1065.53 L577.11 1065.64 L578.60 1065.75 L580.10 1065.86 L581.59 1065.98 L583.08 1066.09 L584.58 1066.20 L586.07 1066.31 L587.57 1066.41 L589.06 1066.52 L590.55 1066.63 L592.05 1066.73 L593.54 1066.84 L595.04 1066.94 L596.53 1067.05 L598.02 1067.15 L599.52 1067.25 L601.01 1067.35 L602.51 1067.45 L604.00 1067.55 L605.50 1067.65 L606.99 1067.75 L608.49 1067.84 L609.98 1067.94 L611.48 1068.04 L612.97 1068.13 L614.47 1068.23 L615.96 1068.32 L617.45 1068.41 L618.95 1068.50 L620.44 1068.60 L621.94 1068.69 L623.44 1068.78 L624.93 1068.86 L626.43 1068.95 L627.92 1069.04 L629.42 1069.13 L630.91 1069.21 L632.41 1069.30 L633.90 1069.38 L635.40 1069.47 L636.89 1069.55 L638.39 1069.63 L639.88 1069.71 L641.38 1069.80 L642.88 1069.88 L644.37 1069.96 L645.87 1070.03 L647.36 1070.11 L648.86 1070.19 L650.35 1070.27 L651.85 1070.34 L653.35 1070.42 L654.84 1070.49 L656.34 1070.57 L657.83 1070.64 L659.33 1070.71 L660.83 1070.79 L662.32 1070.86 L663.82 1070.93 L665.31 1071.00 L666.81 1071.07 L668.31 1071.14 L669.80 1071.20 L671.30 1071.27 L672.80 1071.34 L674.29 1071.40 L675.79 1071.47 L677.28 1071.54 L678.78 1071.60 L680.28 1071.66 L681.77 1071.73 L683.27 1071.79 L684.77 1071.85 L686.26 1071.91 L687.76 1071.97 L689.26 1072.03 L690.75 1072.09 L692.25 1072.15 L693.75 1072.21 L695.24 1072.26 L696.74 1072.32 L698.24 1072.38 L699.73 1072.43 L701.23 1072.49 L702.73 1072.54 L704.22 1072.59 L705.72 1072.65 L707.22 1072.70 L708.71 1072.75 L710.21 1072.80 L711.71 1072.85 L713.20 1072.90 L714.70 1072.95 L716.20 1073.00 L717.69 1073.05 L719.19 1073.10 L720.69 1073.14 L722.19 1073.19 L723.68 1073.24 L725.18 1073.28 L726.68 1073.33 L728.17 1073.37 L729.67 1073.42 L731.17 1073.46 L732.67 1073.50 L734.16 1073.54 L735.66 1073.59 L737.16 1073.63 L738.65 1073.67 L740.15 1073.71 L741.65 1073.75 L743.15 1073.79 L744.64 1073.82 L746.14 1073.86 L747.64 1073.90 L749.13 1073.94 L750.63 1073.97 L752.13 1074.01 L753.63 1074.04 L755.12 1074.08 L756.62 1074.11 L758.12 1074.15 L759.61 1074.18 L761.11 1074.21 L762.61 1074.24 L764.11 1074.28 L765.60 1074.31 L767.10 1074.34 L768.60 1074.37 L770.10 1074.40 L771.59 1074.43 L773.09 1074.46 L774.59 1074.48 L776.09 1074.51 L777.58 1074.54 L779.08 1074.57 L780.58 1074.59 L782.08 1074.62 L783.57 1074.64 L785.07 1074.67" fill="none" stroke="#1a5cae" stroke-width="3.10" stroke-linecap="butt" stroke-linejoin="round" stroke-dasharray="2.9 6.12" stroke-dashoffset="0.00" clip-path="url(#cb)"/>
<path d="M168.50 615.50 L168.46 617.00 L168.42 618.50 L168.39 619.99 L168.37 621.49 L168.36 622.99 L168.35 624.49 L168.34 625.99 L168.34 627.48 L168.35 628.98 L168.37 630.48 L168.38 631.98 L168.40 633.48 L168.43 634.98 L168.46 636.47 L168.49 637.97 L168.53 639.47 L168.57 640.97 L168.61 642.46 L168.65 643.96 L168.70 645.46 L168.74 646.96 L168.79 648.45 L168.84 649.95 L168.89 651.45 L168.94 652.95 L168.99 654.44 L169.04 655.94 L169.08 657.44 L169.13 658.94 L169.17 660.44 L169.22 661.93 L169.26 663.43 L169.30 664.93 L169.33 666.43 L169.37 667.92 L169.40 669.42 L169.42 670.92 L169.44 672.42 L169.46 673.92 L169.47 675.41 L169.48 676.91 L169.49 678.41 L169.49 679.91 L169.49 681.41 L169.49 682.91 L169.49 684.40 L169.48 685.90 L169.48 687.40 L169.48 688.90 L169.48 690.40 L169.49 691.90 L169.49 693.39 L169.50 694.89 L169.52 696.39 L169.54 697.89 L169.56 699.39 L169.59 700.88 L169.63 702.38 L169.68 703.88 L169.73 705.38 L169.79 706.87 L169.86 708.37 L169.95 709.87 L170.04 711.36 L170.14 712.86 L170.26 714.35 L170.39 715.84 L170.53 717.33 L170.68 718.83 L170.85 720.31 L171.04 721.80 L171.24 723.29 L171.46 724.77 L171.69 726.25 L171.95 727.72 L172.22 729.20 L172.51 730.67 L172.82 732.13 L173.15 733.59 L173.50 735.05 L173.88 736.50 L174.27 737.95 L174.70 739.38 L175.15 740.81 L175.62 742.23 L176.13 743.64 L176.66 745.04 L177.22 746.43 L177.81 747.81 L178.43 749.17 L179.08 750.52 L179.77 751.86 L180.48 753.17 L181.23 754.47 L182.00 755.76 L182.80 757.02 L183.62 758.28 L184.47 759.51 L185.34 760.73 L186.24 761.93 L187.15 763.12 L188.09 764.29 L189.04 765.44 L190.01 766.58 L191.00 767.71 L192.01 768.82 L193.03 769.92 L194.06 771.00 L195.11 772.07 L196.17 773.13 L197.25 774.17 L198.34 775.20 L199.43 776.22 L200.54 777.23 L201.66 778.23 L202.79 779.23 L203.93 780.23 L205.07 781.21 L206.23 782.17 L207.39 783.12 L208.56 784.05 L209.73 784.96 L210.92 785.85 L212.10 786.72 L213.30 787.57 L214.49 788.42 L215.70 789.26 L216.90 790.09 L218.11 790.93 L219.33 791.77 L220.54 792.61 L221.76 793.46 L222.98 794.31 L224.20 795.18 L225.43 796.05 L226.65 796.93 L227.88 797.81 L229.10 798.70 L230.33 799.58 L231.55 800.47 L232.78 801.36 L234.00 802.25 L235.22 803.14 L236.44 804.03 L237.66 804.92 L238.88 805.82 L240.09 806.71 L241.31 807.60 L242.52 808.50 L243.74 809.39 L244.95 810.28 L246.16 811.18 L247.37 812.07 L248.58 812.96 L249.79 813.85 L250.99 814.75 L252.20 815.64 L253.41 816.53 L254.62 817.42 L255.82 818.32 L257.03 819.21 L258.24 820.10 L259.44 820.99 L260.65 821.88 L261.86 822.77 L263.06 823.66 L264.27 824.54 L265.48 825.43 L266.69 826.32 L267.90 827.20 L269.11 828.09 L270.32 828.97 L271.53 829.85 L272.74 830.73 L273.95 831.61 L275.17 832.49 L276.38 833.37 L277.60 834.25 L278.82 835.12 L280.04 835.99 L281.26 836.87 L282.48 837.74 L283.70 838.61 L284.93 839.47 L286.15 840.34 L287.38 841.21 L288.61 842.07 L289.84 842.93 L291.07 843.79 L292.30 844.65 L293.53 845.51 L294.76 846.37 L296.00 847.22 L297.24 848.07 L298.47 848.93 L299.71 849.78 L300.95 850.63 L302.19 851.47 L303.43 852.32 L304.68 853.16 L305.92 854.00 L307.16 854.84 L308.41 855.68 L309.66 856.52 L310.91 857.36 L312.16 858.19 L313.41 859.02 L314.66 859.85 L315.91 860.68 L317.16 861.51 L318.42 862.33 L319.67 863.16 L320.93 863.98 L322.19 864.80 L323.45 865.62 L324.71 866.44 L325.97 867.25 L327.23 868.06 L328.49 868.87 L329.75 869.68 L331.02 870.49 L332.28 871.30 L333.55 872.10 L334.82 872.90 L336.09 873.70 L337.35 874.50 L338.62 875.30 L339.90 876.09 L341.17 876.88 L342.44 877.67 L343.71 878.46 L344.99 879.25 L346.26 880.03 L347.54 880.81 L348.82 881.59 L350.10 882.37 L351.38 883.15 L352.66 883.92 L353.94 884.69 L355.22 885.46 L356.50 886.23 L357.79 887.00 L359.07 887.76 L360.35 888.53 L361.64 889.28 L362.93 890.04 L364.22 890.80 L365.50 891.55 L366.79 892.30 L368.08 893.05 L369.37 893.80 L370.67 894.54 L371.96 895.29 L373.25 896.03 L374.55 896.77 L375.84 897.50 L377.14 898.24 L378.44 898.97 L379.74 899.70 L381.04 900.43 L382.34 901.16 L383.64 901.88 L384.94 902.60 L386.25 903.32 L387.55 904.04 L388.86 904.76 L390.17 905.47 L391.48 906.18 L392.79 906.89 L394.10 907.60 L395.41 908.30 L396.72 909.01 L398.04 909.71 L399.35 910.41 L400.67 911.10 L401.99 911.80 L403.31 912.49 L404.63 913.18 L405.95 913.87 L407.27 914.55 L408.60 915.24 L409.92 915.92 L411.25 916.60 L412.58 917.28 L413.91 917.95 L415.24 918.63 L416.57 919.30 L417.91 919.97 L419.24 920.63 L420.58 921.30 L421.92 921.96 L423.26 922.62 L424.60 923.28 L425.94 923.94 L427.29 924.59 L428.63 925.24 L429.98 925.89 L431.33 926.54 L432.68 927.18 L434.03 927.82 L435.38 928.46 L436.74 929.10 L438.09 929.74 L439.45 930.37 L440.81 931.00 L442.17 931.63 L443.53 932.26 L444.89 932.88 L446.26 933.51 L447.63 934.13 L448.99 934.74 L450.36 935.36 L451.74 935.97 L453.11 936.58 L454.48 937.19 L455.86 937.80 L457.24 938.40 L458.62 939.01 L460.00 939.60 L461.38 940.20 L462.76 940.80 L464.15 941.39 L465.54 941.98 L466.92 942.57 L468.31 943.15 L469.70 943.74 L471.10 944.32 L472.49 944.89 L473.88 945.47 L475.28 946.04 L476.68 946.61 L478.07 947.18 L479.47 947.74 L480.87 948.31 L482.27 948.87 L483.68 949.42 L485.08 949.98 L486.48 950.53 L487.89 951.08 L489.30 951.63 L490.70 952.17 L492.11 952.71 L493.52 953.25 L494.93 953.79 L496.34 954.32 L497.75 954.85 L499.16 955.38 L500.57 955.91 L501.98 956.43 L503.40 956.95 L504.81 957.47 L506.23 957.98 L507.64 958.49 L509.06 959.00 L510.47 959.51 L511.89 960.01 L513.30 960.51 L514.72 961.01 L516.14 961.50 L517.56 961.99 L518.98 962.48 L520.40 962.97 L521.82 963.45 L523.24 963.93 L524.66 964.41 L526.08 964.89 L527.50 965.36 L528.92 965.83 L530.35 966.30 L531.77 966.76 L533.19 967.22 L534.62 967.68 L536.04 968.14 L537.47 968.59 L538.90 969.04 L540.32 969.49 L541.75 969.94 L543.18 970.38 L544.61 970.82 L546.04 971.26 L547.47 971.69 L548.90 972.12 L550.34 972.55 L551.77 972.98 L553.20 973.40 L554.64 973.82 L556.07 974.24 L557.51 974.66 L558.94 975.07 L560.38 975.48 L561.80 975.88" fill="none" stroke="#4fb645" stroke-width="4.60" stroke-linecap="butt" stroke-linejoin="round" stroke-dasharray="12.6 13.2" stroke-dashoffset="-0.50" clip-path="url(#cb)"/>
<path d="M561.80 975.88 L561.82 975.89 L563.26 976.29 L564.70 976.70 L566.14 977.10 L567.58 977.49 L569.02 977.89 L570.47 978.28 L571.91 978.67 L573.35 979.06 L574.80 979.44 L576.24 979.82 L577.69 980.20 L579.14 980.58 L580.59 980.95 L582.04 981.32 L583.49 981.69 L584.94 982.06 L586.39 982.42 L587.84 982.78 L589.29 983.14 L590.75 983.49 L592.20 983.84 L593.65 984.19 L595.11 984.54 L596.57 984.88 L598.02 985.23 L599.48 985.56 L600.94 985.90 L602.40 986.23 L603.86 986.57 L605.32 986.89 L606.78 987.22 L608.24 987.54 L609.70 987.86 L611.16 988.18 L612.62 988.50 L614.09 988.81 L615.55 989.12 L617.02 989.42 L618.48 989.73 L619.95 990.03 L621.42 990.33 L622.88 990.63 L624.35 990.92 L625.82 991.21 L627.29 991.50 L628.76 991.79 L630.23 992.07 L631.70 992.35 L633.17 992.63 L634.64 992.90 L636.11 993.18 L637.59 993.45 L639.06 993.71 L640.53 993.98 L642.01 994.24 L643.48 994.50 L644.96 994.76 L646.43 995.01 L647.91 995.26 L649.39 995.51 L650.86 995.76 L652.34 996.00 L653.82 996.24 L655.30 996.48 L656.78 996.72 L658.26 996.95 L659.74 997.18 L661.22 997.41 L662.70 997.64 L664.18 997.86 L665.66 998.08 L667.14 998.30 L668.62 998.51 L670.11 998.73 L671.59 998.94 L673.07 999.14 L674.56 999.35 L676.04 999.55 L677.53 999.75 L679.01 999.95 L680.50 1000.14 L681.98 1000.34 L683.47 1000.53 L684.95 1000.71 L686.44 1000.90 L687.93 1001.08 L689.42 1001.26 L690.90 1001.44 L692.39 1001.61 L693.88 1001.78 L695.37 1001.95 L696.86 1002.12 L698.35 1002.28 L699.84 1002.44 L701.33 1002.60 L702.82 1002.76 L704.31 1002.91 L705.80 1003.07 L707.29 1003.21 L708.78 1003.36 L710.27 1003.51 L711.76 1003.65 L713.26 1003.79 L714.75 1003.92 L716.24 1004.06 L717.73 1004.19 L719.23 1004.32 L720.72 1004.45 L722.21 1004.57 L723.71 1004.69 L725.20 1004.81 L726.69 1004.93 L728.19 1005.04 L729.68 1005.16 L731.18 1005.27 L732.67 1005.37 L734.17 1005.48 L735.66 1005.58 L737.16 1005.68 L738.65 1005.78 L740.15 1005.87 L741.64 1005.97 L743.14 1006.06 L744.64 1006.15 L746.13 1006.23 L747.63 1006.31 L749.13 1006.40 L750.62 1006.47 L752.12 1006.55 L753.62 1006.62 L755.11 1006.70 L756.61 1006.76 L758.11 1006.83 L759.61 1006.90 L761.10 1006.96 L762.60 1007.02 L764.10 1007.08 L765.60 1007.13 L767.09 1007.18 L768.59 1007.24 L770.09 1007.28 L771.59 1007.33 L773.08 1007.37 L774.58 1007.41 L776.08 1007.45 L777.58 1007.49 L779.08 1007.53 L780.58 1007.56 L782.07 1007.59 L783.57 1007.62 L785.07 1007.64" fill="none" stroke="#4fb645" stroke-width="4.60" stroke-linecap="butt" stroke-linejoin="round" stroke-dasharray="12.6 13.2" stroke-dashoffset="0.00" clip-path="url(#cb)"/>
<path d="M140.46 689.82 L140.46 705.02 M141.28 688.22 L141.28 705.02 M141.28 688.22 L132.31 700.22 L145.35 700.22 M138.02 705.02 L143.72 705.02" fill="none" stroke="#000" stroke-width="1.60" stroke-linecap="round" stroke-linejoin="round"/>
<path d="M113.7 697.82 H127.15" stroke="#000" stroke-width="1.60" stroke-linecap="round" fill="none"/>
<path d="M135.57 767.73 L133.94 775.73 M133.94 775.73 L135.57 774.13 L138.02 773.33 L140.46 773.33 L142.91 774.13 L144.53 775.73 L145.35 778.13 L145.35 779.73 L144.53 782.13 L142.91 783.73 L140.46 784.53 L138.02 784.53 L135.57 783.73 L134.75 782.93 L133.94 781.33 L133.94 780.53 L134.75 779.73 L135.57 780.53 L134.75 781.33 M140.46 773.33 L142.09 774.13 L143.72 775.73 L144.53 778.13 L144.53 779.73 L143.72 782.13 L142.09 783.73 L140.46 784.53 M135.57 767.73 L143.72 767.73 M135.57 768.53 L139.65 768.53 L143.72 767.73" fill="none" stroke="#000" stroke-width="1.60" stroke-linecap="round" stroke-linejoin="round"/>
<path d="M113.7 777.33 H127.15" stroke="#000" stroke-width="1.60" stroke-linecap="round" fill="none"/>
<path d="M143.72 849.65 L142.91 850.45 L143.72 851.25 L144.53 850.45 L144.53 849.65 L143.72 848.05 L142.09 847.25 L139.65 847.25 L137.20 848.05 L135.57 849.65 L134.75 851.25 L133.94 854.45 L133.94 859.25 L134.75 861.65 L136.38 863.25 L138.83 864.05 L140.46 864.05 L142.91 863.25 L144.53 861.65 L145.35 859.25 L145.35 858.45 L144.53 856.05 L142.91 854.45 L140.46 853.65 L139.65 853.65 L137.20 854.45 L135.57 856.05 L134.75 858.45 M139.65 847.25 L138.02 848.05 L136.38 849.65 L135.57 851.25 L134.75 854.45 L134.75 859.25 L135.57 861.65 L137.20 863.25 L138.83 864.05 M140.46 864.05 L142.09 863.25 L143.72 861.65 L144.53 859.25 L144.53 858.45 L143.72 856.05 L142.09 854.45 L140.46 853.65" fill="none" stroke="#000" stroke-width="1.60" stroke-linecap="round" stroke-linejoin="round"/>
<path d="M113.7 856.85 H127.15" stroke="#000" stroke-width="1.60" stroke-linecap="round" fill="none"/>
<path d="M133.94 926.77 L133.94 931.57 M133.94 929.97 L134.75 928.37 L136.38 926.77 L138.02 926.77 L142.09 929.17 L143.72 929.17 L144.53 928.37 L145.35 926.77 M134.75 928.37 L136.38 927.57 L138.02 927.57 L142.09 929.17 M145.35 926.77 L145.35 929.17 L144.53 931.57 L141.28 935.57 L140.46 937.17 L139.65 939.57 L139.65 943.57 M144.53 931.57 L140.46 935.57 L139.65 937.17 L138.83 939.57 L138.83 943.57" fill="none" stroke="#000" stroke-width="1.60" stroke-linecap="round" stroke-linejoin="round"/>
<path d="M113.7 936.37 H127.15" stroke="#000" stroke-width="1.60" stroke-linecap="round" fill="none"/>
<path d="M138.02 1006.28 L135.57 1007.08 L134.75 1008.68 L134.75 1011.08 L135.57 1012.68 L138.02 1013.48 L141.28 1013.48 L143.72 1012.68 L144.53 1011.08 L144.53 1008.68 L143.72 1007.08 L141.28 1006.28 L138.02 1006.28 M138.02 1006.28 L136.38 1007.08 L135.57 1008.68 L135.57 1011.08 L136.38 1012.68 L138.02 1013.48 M141.28 1013.48 L142.91 1012.68 L143.72 1011.08 L143.72 1008.68 L142.91 1007.08 L141.28 1006.28 M138.02 1013.48 L135.57 1014.28 L134.75 1015.08 L133.94 1016.68 L133.94 1019.88 L134.75 1021.48 L135.57 1022.28 L138.02 1023.08 L141.28 1023.08 L143.72 1022.28 L144.53 1021.48 L145.35 1019.88 L145.35 1016.68 L144.53 1015.08 L143.72 1014.28 L141.28 1013.48 M138.02 1013.48 L136.38 1014.28 L135.57 1015.08 L134.75 1016.68 L134.75 1019.88 L135.57 1021.48 L136.38 1022.28 L138.02 1023.08 M141.28 1023.08 L142.91 1022.28 L143.72 1021.48 L144.53 1019.88 L144.53 1016.68 L143.72 1015.08 L142.91 1014.28 L141.28 1013.48" fill="none" stroke="#000" stroke-width="1.60" stroke-linecap="round" stroke-linejoin="round"/>
<path d="M113.7 1015.88 H127.15" stroke="#000" stroke-width="1.60" stroke-linecap="round" fill="none"/>
<path d="M134.75 619.50 L135.57 620.30 L134.75 621.10 L133.94 620.30 L133.94 619.50 L134.75 617.90 L135.57 617.10 L138.02 616.30 L141.28 616.30 L143.72 617.10 L144.53 618.70 L144.53 621.10 L143.72 622.70 L141.28 623.50 L138.83 623.50 M141.28 616.30 L142.91 617.10 L143.72 618.70 L143.72 621.10 L142.91 622.70 L141.28 623.50 M141.28 623.50 L142.91 624.30 L144.53 625.90 L145.35 627.50 L145.35 629.90 L144.53 631.50 L143.72 632.30 L141.28 633.10 L138.02 633.10 L135.57 632.30 L134.75 631.50 L133.94 629.90 L133.94 629.10 L134.75 628.30 L135.57 629.10 L134.75 629.90 M143.72 625.10 L144.53 627.50 L144.53 629.90 L143.72 631.50 L142.91 632.30 L141.28 633.10" fill="none" stroke="#000" stroke-width="1.60" stroke-linecap="round" stroke-linejoin="round"/>
<path d="M113.7 625.90 H127.15" stroke="#000" stroke-width="1.60" stroke-linecap="round" fill="none"/>
<path d="M144.53 1081.70 L143.72 1084.10 L142.09 1085.70 L139.65 1086.50 L138.83 1086.50 L136.38 1085.70 L134.75 1084.10 L133.94 1081.70 L133.94 1080.90 L134.75 1078.50 L136.38 1076.90 L138.83 1076.10 L140.46 1076.10 L142.91 1076.90 L144.53 1078.50 L145.35 1080.90 L145.35 1085.70 L144.53 1088.90 L143.72 1090.50 L142.09 1092.10 L139.65 1092.90 L137.20 1092.90 L135.57 1092.10 L134.75 1090.50 L134.75 1089.70 L135.57 1088.90 L136.38 1089.70 L135.57 1090.50 M138.83 1086.50 L137.20 1085.70 L135.57 1084.10 L134.75 1081.70 L134.75 1080.90 L135.57 1078.50 L137.20 1076.90 L138.83 1076.10 M140.46 1076.10 L142.09 1076.90 L143.72 1078.50 L144.53 1080.90 L144.53 1085.70 L143.72 1088.90 L142.91 1090.50 L141.28 1092.10 L139.65 1092.90" fill="none" stroke="#000" stroke-width="1.60" stroke-linecap="round" stroke-linejoin="round"/>
<path d="M113.7 1085.70 H127.15" stroke="#000" stroke-width="1.60" stroke-linecap="round" fill="none"/>
<path d="M154.54 1113.20 L152.10 1114.00 L150.47 1116.40 L149.65 1120.40 L149.65 1122.80 L150.47 1126.80 L152.10 1129.20 L154.54 1130.00 L156.17 1130.00 L158.62 1129.20 L160.25 1126.80 L161.06 1122.80 L161.06 1120.40 L160.25 1116.40 L158.62 1114.00 L156.17 1113.20 L154.54 1113.20 M154.54 1113.20 L152.91 1114.00 L152.10 1114.80 L151.28 1116.40 L150.47 1120.40 L150.47 1122.80 L151.28 1126.80 L152.10 1128.40 L152.91 1129.20 L154.54 1130.00 M156.17 1130.00 L157.80 1129.20 L158.62 1128.40 L159.43 1126.80 L160.25 1122.80 L160.25 1120.40 L159.43 1116.40 L158.62 1114.80 L157.80 1114.00 L156.17 1113.20 M167.58 1128.40 L166.77 1129.20 L167.58 1130.00 L168.40 1129.20 L167.58 1128.40 M178.99 1113.20 L176.55 1114.00 L174.92 1116.40 L174.10 1120.40 L174.10 1122.80 L174.92 1126.80 L176.55 1129.20 L178.99 1130.00 L180.62 1130.00 L183.07 1129.20 L184.70 1126.80 L185.51 1122.80 L185.51 1120.40 L184.70 1116.40 L183.07 1114.00 L180.62 1113.20 L178.99 1113.20 M178.99 1113.20 L177.36 1114.00 L176.55 1114.80 L175.73 1116.40 L174.92 1120.40 L174.92 1122.80 L175.73 1126.80 L176.55 1128.40 L177.36 1129.20 L178.99 1130.00 M180.62 1130.00 L182.25 1129.20 L183.07 1128.40 L183.88 1126.80 L184.70 1122.80 L184.70 1120.40 L183.88 1116.40 L183.07 1114.80 L182.25 1114.00 L180.62 1113.20" fill="none" stroke="#000" stroke-width="1.60" stroke-linecap="round" stroke-linejoin="round"/>
<path d="M278.70 1113.20 L276.25 1114.00 L274.62 1116.40 L273.81 1120.40 L273.81 1122.80 L274.62 1126.80 L276.25 1129.20 L278.70 1130.00 L280.33 1130.00 L282.77 1129.20 L284.40 1126.80 L285.22 1122.80 L285.22 1120.40 L284.40 1116.40 L282.77 1114.00 L280.33 1113.20 L278.70 1113.20 M278.70 1113.20 L277.07 1114.00 L276.25 1114.80 L275.44 1116.40 L274.62 1120.40 L274.62 1122.80 L275.44 1126.80 L276.25 1128.40 L277.07 1129.20 L278.70 1130.00 M280.33 1130.00 L281.96 1129.20 L282.77 1128.40 L283.59 1126.80 L284.40 1122.80 L284.40 1120.40 L283.59 1116.40 L282.77 1114.80 L281.96 1114.00 L280.33 1113.20 M291.74 1128.40 L290.92 1129.20 L291.74 1130.00 L292.55 1129.20 L291.74 1128.40 M300.70 1116.40 L302.33 1115.60 L304.78 1113.20 L304.78 1130.00 M303.96 1114.00 L303.96 1130.00 M300.70 1130.00 L308.04 1130.00" fill="none" stroke="#000" stroke-width="1.60" stroke-linecap="round" stroke-linejoin="round"/>
<path d="M401.22 1113.20 L398.77 1114.00 L397.14 1116.40 L396.33 1120.40 L396.33 1122.80 L397.14 1126.80 L398.77 1129.20 L401.22 1130.00 L402.85 1130.00 L405.29 1129.20 L406.92 1126.80 L407.74 1122.80 L407.74 1120.40 L406.92 1116.40 L405.29 1114.00 L402.85 1113.20 L401.22 1113.20 M401.22 1113.20 L399.59 1114.00 L398.77 1114.80 L397.96 1116.40 L397.14 1120.40 L397.14 1122.80 L397.96 1126.80 L398.77 1128.40 L399.59 1129.20 L401.22 1130.00 M402.85 1130.00 L404.48 1129.20 L405.29 1128.40 L406.11 1126.80 L406.92 1122.80 L406.92 1120.40 L406.11 1116.40 L405.29 1114.80 L404.48 1114.00 L402.85 1113.20 M414.26 1128.40 L413.44 1129.20 L414.26 1130.00 L415.07 1129.20 L414.26 1128.40 M421.59 1116.40 L422.41 1117.20 L421.59 1118.00 L420.78 1117.20 L420.78 1116.40 L421.59 1114.80 L422.41 1114.00 L424.85 1113.20 L428.11 1113.20 L430.56 1114.00 L431.37 1114.80 L432.19 1116.40 L432.19 1118.00 L431.37 1119.60 L428.93 1121.20 L424.85 1122.80 L423.22 1123.60 L421.59 1125.20 L420.78 1127.60 L420.78 1130.00 M428.11 1113.20 L429.74 1114.00 L430.56 1114.80 L431.37 1116.40 L431.37 1118.00 L430.56 1119.60 L428.11 1121.20 L424.85 1122.80 M420.78 1128.40 L421.59 1127.60 L423.22 1127.60 L427.30 1129.20 L429.74 1129.20 L431.37 1128.40 L432.19 1127.60 M423.22 1127.60 L427.30 1130.00 L430.56 1130.00 L431.37 1129.20 L432.19 1127.60 L432.19 1126.00" fill="none" stroke="#000" stroke-width="1.60" stroke-linecap="round" stroke-linejoin="round"/>
<path d="M524.56 1113.20 L522.11 1114.00 L520.48 1116.40 L519.67 1120.40 L519.67 1122.80 L520.48 1126.80 L522.11 1129.20 L524.56 1130.00 L526.19 1130.00 L528.63 1129.20 L530.26 1126.80 L531.08 1122.80 L531.08 1120.40 L530.26 1116.40 L528.63 1114.00 L526.19 1113.20 L524.56 1113.20 M524.56 1113.20 L522.93 1114.00 L522.11 1114.80 L521.30 1116.40 L520.48 1120.40 L520.48 1122.80 L521.30 1126.80 L522.11 1128.40 L522.93 1129.20 L524.56 1130.00 M526.19 1130.00 L527.82 1129.20 L528.63 1128.40 L529.45 1126.80 L530.26 1122.80 L530.26 1120.40 L529.45 1116.40 L528.63 1114.80 L527.82 1114.00 L526.19 1113.20 M537.60 1128.40 L536.78 1129.20 L537.60 1130.00 L538.41 1129.20 L537.60 1128.40 M544.93 1116.40 L545.75 1117.20 L544.93 1118.00 L544.12 1117.20 L544.12 1116.40 L544.93 1114.80 L545.75 1114.00 L548.19 1113.20 L551.45 1113.20 L553.90 1114.00 L554.71 1115.60 L554.71 1118.00 L553.90 1119.60 L551.45 1120.40 L549.01 1120.40 M551.45 1113.20 L553.08 1114.00 L553.90 1115.60 L553.90 1118.00 L553.08 1119.60 L551.45 1120.40 M551.45 1120.40 L553.08 1121.20 L554.71 1122.80 L555.53 1124.40 L555.53 1126.80 L554.71 1128.40 L553.90 1129.20 L551.45 1130.00 L548.19 1130.00 L545.75 1129.20 L544.93 1128.40 L544.12 1126.80 L544.12 1126.00 L544.93 1125.20 L545.75 1126.00 L544.93 1126.80 M553.90 1122.00 L554.71 1124.40 L554.71 1126.80 L553.90 1128.40 L553.08 1129.20 L551.45 1130.00" fill="none" stroke="#000" stroke-width="1.60" stroke-linecap="round" stroke-linejoin="round"/>
<path d="M647.49 1113.20 L645.04 1114.00 L643.41 1116.40 L642.60 1120.40 L642.60 1122.80 L643.41 1126.80 L645.04 1129.20 L647.49 1130.00 L649.12 1130.00 L651.56 1129.20 L653.19 1126.80 L654.01 1122.80 L654.01 1120.40 L653.19 1116.40 L651.56 1114.00 L649.12 1113.20 L647.49 1113.20 M647.49 1113.20 L645.86 1114.00 L645.04 1114.80 L644.23 1116.40 L643.41 1120.40 L643.41 1122.80 L644.23 1126.80 L645.04 1128.40 L645.86 1129.20 L647.49 1130.00 M649.12 1130.00 L650.75 1129.20 L651.56 1128.40 L652.38 1126.80 L653.19 1122.80 L653.19 1120.40 L652.38 1116.40 L651.56 1114.80 L650.75 1114.00 L649.12 1113.20 M660.53 1128.40 L659.71 1129.20 L660.53 1130.00 L661.34 1129.20 L660.53 1128.40 M674.38 1114.80 L674.38 1130.00 M675.20 1113.20 L675.20 1130.00 M675.20 1113.20 L666.23 1125.20 L679.27 1125.20 M671.94 1130.00 L677.64 1130.00" fill="none" stroke="#000" stroke-width="1.60" stroke-linecap="round" stroke-linejoin="round"/>
<path d="M771.23 1113.20 L768.78 1114.00 L767.15 1116.40 L766.34 1120.40 L766.34 1122.80 L767.15 1126.80 L768.78 1129.20 L771.23 1130.00 L772.86 1130.00 L775.30 1129.20 L776.93 1126.80 L777.75 1122.80 L777.75 1120.40 L776.93 1116.40 L775.30 1114.00 L772.86 1113.20 L771.23 1113.20 M771.23 1113.20 L769.60 1114.00 L768.78 1114.80 L767.97 1116.40 L767.15 1120.40 L767.15 1122.80 L767.97 1126.80 L768.78 1128.40 L769.60 1129.20 L771.23 1130.00 M772.86 1130.00 L774.49 1129.20 L775.30 1128.40 L776.12 1126.80 L776.93 1122.80 L776.93 1120.40 L776.12 1116.40 L775.30 1114.80 L774.49 1114.00 L772.86 1113.20 M784.27 1128.40 L783.45 1129.20 L784.27 1130.00 L785.09 1129.20 L784.27 1128.40 M792.42 1113.20 L790.79 1121.20 M790.79 1121.20 L792.42 1119.60 L794.87 1118.80 L797.31 1118.80 L799.75 1119.60 L801.38 1121.20 L802.20 1123.60 L802.20 1125.20 L801.38 1127.60 L799.75 1129.20 L797.31 1130.00 L794.87 1130.00 L792.42 1129.20 L791.61 1128.40 L790.79 1126.80 L790.79 1126.00 L791.61 1125.20 L792.42 1126.00 L791.61 1126.80 M797.31 1118.80 L798.94 1119.60 L800.57 1121.20 L801.38 1123.60 L801.38 1125.20 L800.57 1127.60 L798.94 1129.20 L797.31 1130.00 M792.42 1113.20 L800.57 1113.20 M792.42 1114.00 L796.50 1114.00 L800.57 1113.20" fill="none" stroke="#000" stroke-width="1.60" stroke-linecap="round" stroke-linejoin="round"/>
<path d="M636.90 870.30 L636.90 839.20 M629.90 850.90 L636.90 839.20 L643.90 850.90" fill="none" stroke="#000" stroke-width="1.55" stroke-linejoin="miter"/>
<path d="M628.45 909.50 L628.45 939.20 M621.45 927.50 L628.45 939.20 L635.45 927.50" fill="none" stroke="#000" stroke-width="1.55" stroke-linejoin="miter"/>
<path d="M645.50 909.50 L645.50 1060.50 M638.50 1048.80 L645.50 1060.50 L652.50 1048.80" fill="none" stroke="#000" stroke-width="1.55" stroke-linejoin="miter"/>
<path d="M721.34 78.95 L719.86 80.39 L718.37 82.55 L716.89 85.43 L716.15 89.03 L716.15 91.91 L716.89 95.51 L718.37 98.39 L719.86 100.55 L721.34 101.99 M719.86 80.39 L718.37 83.27 L717.63 85.43 L716.89 89.03 L716.89 91.91 L717.63 95.51 L718.37 97.67 L719.86 100.55 M727.27 88.31 L727.27 89.03 L726.53 89.03 L726.53 88.31 L727.27 87.59 L728.76 86.87 L731.72 86.87 L733.21 87.59 L733.95 88.31 L734.69 89.75 L734.69 94.79 L735.43 96.23 L736.17 96.95 M733.95 88.31 L733.95 94.79 L734.69 96.23 L736.17 96.95 L736.91 96.95 M733.95 89.75 L733.21 90.47 L728.76 91.19 L726.53 91.91 L725.79 93.35 L725.79 94.79 L726.53 96.23 L728.76 96.95 L730.98 96.95 L732.47 96.23 L733.95 94.79 M728.76 91.19 L727.27 91.91 L726.53 93.35 L726.53 94.79 L727.27 96.23 L728.76 96.95 M740.62 78.95 L742.11 80.39 L743.59 82.55 L745.07 85.43 L745.81 89.03 L745.81 91.91 L745.07 95.51 L743.59 98.39 L742.11 100.55 L740.62 101.99 M742.11 80.39 L743.59 83.27 L744.33 85.43 L745.07 89.03 L745.07 91.91 L744.33 95.51 L743.59 97.67 L742.11 100.55" fill="none" stroke="#000" stroke-width="1.60" stroke-linecap="round" stroke-linejoin="round"/>
<path d="M721.14 650.05 L719.66 651.49 L718.17 653.65 L716.69 656.53 L715.95 660.13 L715.95 663.01 L716.69 666.61 L718.17 669.49 L719.66 671.65 L721.14 673.09 M719.66 651.49 L718.17 654.37 L717.43 656.53 L716.69 660.13 L716.69 663.01 L717.43 666.61 L718.17 668.77 L719.66 671.65 M727.07 652.93 L727.07 668.05 M727.82 652.93 L727.82 668.05 M727.82 660.13 L729.30 658.69 L730.78 657.97 L732.27 657.97 L734.49 658.69 L735.97 660.13 L736.71 662.29 L736.71 663.73 L735.97 665.89 L734.49 667.33 L732.27 668.05 L730.78 668.05 L729.30 667.33 L727.82 665.89 M732.27 657.97 L733.75 658.69 L735.23 660.13 L735.97 662.29 L735.97 663.73 L735.23 665.89 L733.75 667.33 L732.27 668.05 M724.85 652.93 L727.82 652.93 M741.16 650.05 L742.65 651.49 L744.13 653.65 L745.61 656.53 L746.36 660.13 L746.36 663.01 L745.61 666.61 L744.13 669.49 L742.65 671.65 L741.16 673.09 M742.65 651.49 L744.13 654.37 L744.87 656.53 L745.61 660.13 L745.61 663.01 L744.87 666.61 L744.13 668.77 L742.65 671.65" fill="none" stroke="#000" stroke-width="1.60" stroke-linecap="round" stroke-linejoin="round"/>
<path d="M50.25 328.75 L67.05 328.75 M50.25 327.93 L67.05 327.93 M50.25 333.63 L55.05 334.45 L50.25 334.45 L50.25 322.22 L55.05 322.22 L50.25 323.04 M67.05 331.19 L67.05 325.49" fill="none" stroke="#000" stroke-width="1.60" stroke-linecap="round" stroke-linejoin="round"/>
<path d="M47.05 285.55 L48.65 287.18 L51.05 288.81 L54.25 290.44 L58.25 291.25 L61.45 291.25 L65.45 290.44 L68.65 288.81 L71.05 287.18 L72.65 285.55 M48.65 287.18 L51.85 288.81 L54.25 289.62 L58.25 290.44 L61.45 290.44 L65.45 289.62 L67.85 288.81 L71.05 287.18 M50.25 279.02 L67.05 279.02 M50.25 278.21 L64.65 273.32 M50.25 279.02 L67.05 273.32 M50.25 267.62 L67.05 273.32 M50.25 267.62 L67.05 267.62 M50.25 266.80 L67.05 266.80 M50.25 281.47 L50.25 278.21 M50.25 267.62 L50.25 264.36 M67.05 281.47 L67.05 276.58 M67.05 270.06 L67.05 264.36 M50.25 258.65 L67.05 258.65 M50.25 257.83 L67.05 257.83 M50.25 247.24 L60.65 257.83 M57.45 253.76 L67.05 247.24 M57.45 254.57 L67.05 248.06 M50.25 261.09 L50.25 255.39 M50.25 250.50 L50.25 245.61 M67.05 261.09 L67.05 255.39 M67.05 250.50 L67.05 245.61 M47.05 242.35 L48.65 240.72 L51.05 239.09 L54.25 237.46 L58.25 236.64 L61.45 236.64 L65.45 237.46 L68.65 239.09 L71.05 240.72 L72.65 242.35 M48.65 240.72 L51.85 239.09 L54.25 238.27 L58.25 237.46 L61.45 237.46 L65.45 238.27 L67.85 239.09 L71.05 240.72" fill="none" stroke="#000" stroke-width="1.60" stroke-linecap="round" stroke-linejoin="round"/>
<path d="M443.50 581.85 L444.32 580.25 L444.32 583.45 L443.50 581.85 L442.69 581.05 L441.06 580.25 L437.80 580.25 L436.17 581.05 L435.35 581.85 L435.35 583.45 L436.17 584.25 L437.80 585.05 L441.87 586.65 L443.50 587.45 L444.32 588.25 M435.35 582.65 L436.17 583.45 L437.80 584.25 L441.87 585.85 L443.50 586.65 L444.32 587.45 L444.32 589.85 L443.50 590.65 L441.87 591.45 L438.61 591.45 L436.98 590.65 L436.17 589.85 L435.35 588.25 L435.35 591.45 L436.17 589.85" fill="none" stroke="#000" stroke-width="1.60" stroke-linecap="round" stroke-linejoin="round"/>
<path d="M476.82 571.45 L462.15 597.05" fill="none" stroke="#000" stroke-width="1.60" stroke-linecap="round" stroke-linejoin="round"/>
<path d="M496.19 574.65 L496.19 591.45 M497.01 574.65 L497.01 591.45 M493.75 574.65 L499.45 574.65 M493.75 591.45 L505.98 591.45 L505.98 586.65 L505.16 591.45" fill="none" stroke="#000" stroke-width="1.60" stroke-linecap="round" stroke-linejoin="round"/>
<path d="M70.70 985.30 L87.50 985.30 M70.70 984.49 L87.50 984.49 M70.70 987.75 L70.70 984.49 M87.50 987.75 L87.50 982.04 M76.30 973.08 L77.10 975.52 L78.70 977.15 L81.10 977.97 L82.70 977.97 L85.10 977.15 L86.70 975.52 L87.50 973.08 L87.50 971.45 L86.70 969.00 L85.10 967.38 L82.70 966.56 L81.10 966.56 L78.70 967.38 L77.10 969.00 L76.30 971.45 L76.30 973.08 M76.30 973.08 L77.10 974.71 L78.70 976.34 L81.10 977.15 L82.70 977.15 L85.10 976.34 L86.70 974.71 L87.50 973.08 M87.50 971.45 L86.70 969.82 L85.10 968.19 L82.70 967.38 L81.10 967.38 L78.70 968.19 L77.10 969.82 L76.30 971.45 M76.30 957.60 L77.10 959.23 L77.90 960.04 L79.50 960.86 L81.10 960.86 L82.70 960.04 L83.50 959.23 L84.30 957.60 L84.30 955.97 L83.50 954.34 L82.70 953.52 L81.10 952.71 L79.50 952.71 L77.90 953.52 L77.10 954.34 L76.30 955.97 L76.30 957.60 M77.10 959.23 L78.70 960.04 L81.90 960.04 L83.50 959.23 M83.50 954.34 L81.90 953.52 L78.70 953.52 L77.10 954.34 M77.90 953.52 L77.10 952.71 L76.30 951.08 L77.10 951.08 L77.10 952.71 M82.70 960.04 L83.50 960.86 L85.10 961.67 L85.90 961.67 L87.50 960.86 L88.30 958.41 L88.30 954.34 L89.10 951.89 L89.90 951.08 M85.90 961.67 L86.70 960.86 L87.50 958.41 L87.50 954.34 L88.30 951.89 L89.90 951.08 L90.70 951.08 L92.30 951.89 L93.10 954.34 L93.10 959.23 L92.30 961.67 L90.70 962.49 L89.90 962.49 L88.30 961.67 L87.50 959.23" fill="none" stroke="#000" stroke-width="1.60" stroke-linecap="round" stroke-linejoin="round"/>
<path d="M70.70 927.35 L71.50 929.79 L73.10 931.42 L74.70 932.24 L77.90 933.05 L80.30 933.05 L83.50 932.24 L85.10 931.42 L86.70 929.79 L87.50 927.35 L87.50 925.72 L86.70 923.27 L85.10 921.64 L83.50 920.83 L80.30 920.01 L77.90 920.01 L74.70 920.83 L73.10 921.64 L71.50 923.27 L70.70 925.72 L70.70 927.35 M70.70 927.35 L71.50 928.98 L73.10 930.61 L74.70 931.42 L77.90 932.24 L80.30 932.24 L83.50 931.42 L85.10 930.61 L86.70 928.98 L87.50 927.35 M87.50 925.72 L86.70 924.09 L85.10 922.46 L83.50 921.64 L80.30 920.83 L77.90 920.83 L74.70 921.64 L73.10 922.46 L71.50 924.09 L70.70 925.72 M85.90 929.79 L85.10 929.79 L83.50 928.98 L82.70 927.35 L82.70 926.53 L83.50 924.90 L85.10 924.09 L90.70 923.27 L91.50 922.46 L91.50 920.83 L89.90 920.01 L89.10 920.01 M85.10 924.09 L88.30 923.27 L89.90 922.46 L90.70 921.64 L90.70 920.83 L89.90 920.01" fill="none" stroke="#000" stroke-width="1.60" stroke-linecap="round" stroke-linejoin="round"/>
<path d="M67.50 882.54 L69.10 884.17 L71.50 885.80 L74.70 887.43 L78.70 888.25 L81.90 888.25 L85.90 887.43 L89.10 885.80 L91.50 884.17 L93.10 882.54 M69.10 884.17 L72.30 885.80 L74.70 886.62 L78.70 887.43 L81.90 887.43 L85.90 886.62 L88.30 885.80 L91.50 884.17 M81.10 876.84 L81.10 867.06 L79.50 867.06 L77.90 867.88 L77.10 868.69 L76.30 870.32 L76.30 872.76 L77.10 875.21 L78.70 876.84 L81.10 877.65 L82.70 877.65 L85.10 876.84 L86.70 875.21 L87.50 872.76 L87.50 871.13 L86.70 868.69 L85.10 867.06 M81.10 867.88 L78.70 867.88 L77.10 868.69 M76.30 872.76 L77.10 874.39 L78.70 876.02 L81.10 876.84 L82.70 876.84 L85.10 876.02 L86.70 874.39 L87.50 872.76 M76.30 860.54 L87.50 860.54 M76.30 859.73 L87.50 859.73 M81.10 859.73 L78.70 858.91 L77.10 857.28 L76.30 855.65 L76.30 853.21 L77.10 852.39 L77.90 852.39 L78.70 853.21 L77.90 854.02 L77.10 853.21 M76.30 862.99 L76.30 859.73 M87.50 862.99 L87.50 857.28 M76.30 844.24 L77.10 845.87 L77.90 846.68 L79.50 847.50 L81.10 847.50 L82.70 846.68 L83.50 845.87 L84.30 844.24 L84.30 842.61 L83.50 840.98 L82.70 840.16 L81.10 839.35 L79.50 839.35 L77.90 840.16 L77.10 840.98 L76.30 842.61 L76.30 844.24 M77.10 845.87 L78.70 846.68 L81.90 846.68 L83.50 845.87 M83.50 840.98 L81.90 840.16 L78.70 840.16 L77.10 840.98 M77.90 840.16 L77.10 839.35 L76.30 837.72 L77.10 837.72 L77.10 839.35 M82.70 846.68 L83.50 847.50 L85.10 848.31 L85.90 848.31 L87.50 847.50 L88.30 845.05 L88.30 840.98 L89.10 838.53 L89.90 837.72 M85.90 848.31 L86.70 847.50 L87.50 845.05 L87.50 840.98 L88.30 838.53 L89.90 837.72 L90.70 837.72 L92.30 838.53 L93.10 840.98 L93.10 845.87 L92.30 848.31 L90.70 849.13 L89.90 849.13 L88.30 848.31 L87.50 845.87 M67.50 818.98 L93.10 833.64 M78.70 805.12 L79.50 805.93 L80.30 805.12 L79.50 804.30 L78.70 804.30 L77.10 805.93 L76.30 807.57 L76.30 810.01 L77.10 812.46 L78.70 814.09 L81.10 814.90 L82.70 814.90 L85.10 814.09 L86.70 812.46 L87.50 810.01 L87.50 808.38 L86.70 805.93 L85.10 804.30 M76.30 810.01 L77.10 811.64 L78.70 813.27 L81.10 814.09 L82.70 814.09 L85.10 813.27 L86.70 811.64 L87.50 810.01 M76.30 797.78 L87.50 797.78 M76.30 796.97 L87.50 796.97 M78.70 796.97 L77.10 795.34 L76.30 792.89 L76.30 791.26 L77.10 788.82 L78.70 788.00 L87.50 788.00 M76.30 791.26 L77.10 789.63 L78.70 788.82 L87.50 788.82 M78.70 788.00 L77.10 786.38 L76.30 783.93 L76.30 782.30 L77.10 779.86 L78.70 779.04 L87.50 779.04 M76.30 782.30 L77.10 780.67 L78.70 779.86 L87.50 779.86 M76.30 800.23 L76.30 796.97 M87.50 800.23 L87.50 794.52 M87.50 791.26 L87.50 785.56 M87.50 782.30 L87.50 776.60" fill="none" stroke="#000" stroke-width="1.60" stroke-linecap="round" stroke-linejoin="round"/>
<path d="M65.82 772.25 L66.31 771.75 L66.80 772.25 L66.31 772.75 L65.82 772.75 L64.84 772.25 L64.35 771.75 L63.86 770.25 L63.86 768.25 L64.35 766.75 L65.33 766.25 L66.80 766.25 L67.78 766.75 L68.27 768.25 L68.27 769.75 M63.86 768.25 L64.35 767.25 L65.33 766.75 L66.80 766.75 L67.78 767.25 L68.27 768.25 M68.27 768.25 L68.76 767.25 L69.74 766.25 L70.72 765.75 L72.19 765.75 L73.17 766.25 L73.66 766.75 L74.15 768.25 L74.15 770.25 L73.66 771.75 L73.17 772.25 L72.19 772.75 L71.70 772.75 L71.21 772.25 L71.70 771.75 L72.19 772.25 M69.25 766.75 L70.72 766.25 L72.19 766.25 L73.17 766.75 L73.66 767.25 L74.15 768.25" fill="none" stroke="#000" stroke-width="1.60" stroke-linecap="round" stroke-linejoin="round"/>
<path d="M67.50 746.88 L93.10 761.55 M77.90 734.65 L76.30 733.84 L79.50 733.84 L77.90 734.65 L77.10 735.47 L76.30 737.10 L76.30 740.36 L77.10 741.99 L77.90 742.80 L79.50 742.80 L80.30 741.99 L81.10 740.36 L82.70 736.28 L83.50 734.65 L84.30 733.84 M78.70 742.80 L79.50 741.99 L80.30 740.36 L81.90 736.28 L82.70 734.65 L83.50 733.84 L85.90 733.84 L86.70 734.65 L87.50 736.28 L87.50 739.54 L86.70 741.17 L85.90 741.99 L84.30 742.80 L87.50 742.80 L85.90 741.99 M67.50 728.95 L69.10 727.32 L71.50 725.69 L74.70 724.06 L78.70 723.25 L81.90 723.25 L85.90 724.06 L89.10 725.69 L91.50 727.32 L93.10 728.95 M69.10 727.32 L72.30 725.69 L74.70 724.88 L78.70 724.06 L81.90 724.06 L85.90 724.88 L88.30 725.69 L91.50 727.32" fill="none" stroke="#000" stroke-width="1.60" stroke-linecap="round" stroke-linejoin="round"/>
<path d="M194.70 104.37 L196.01 103.11 L197.96 102.49 L197.31 101.86 L196.01 102.49 L194.70 104.37 L194.05 106.25 L194.05 108.14 L194.70 110.02 L195.35 110.65 L196.66 110.65 L197.96 110.02 L199.27 108.14 L199.92 106.25 M194.05 108.14 L194.70 109.39 L195.35 110.02 L196.66 110.02 L197.96 109.39 L199.27 108.14 M199.27 106.25 L199.27 108.14 L199.92 110.02 L200.57 110.65 L201.87 110.65 L203.18 110.02 L204.48 108.14 L205.13 106.25 L205.13 104.37 L204.48 102.49 L203.83 101.86 L203.18 102.49 L204.48 103.11 L205.13 104.37 M199.27 108.14 L199.92 109.39 L200.57 110.02 L201.87 110.02 L203.18 109.39 L204.48 108.14" fill="none" stroke="#000" stroke-width="1.60" stroke-linecap="round" stroke-linejoin="round"/>
<path d="M221.75 103.11 L232.06 103.11 M221.75 106.88 L232.06 106.88" fill="none" stroke="#000" stroke-width="1.60" stroke-linecap="round" stroke-linejoin="round"/>
<path d="M250.85 99.97 L252.15 99.35 L254.11 97.46 L254.11 110.65 M253.46 98.09 L253.46 110.65 M250.85 110.65 L256.72 110.65 M263.24 109.39 L262.59 110.02 L263.24 110.65 L263.89 110.02 L263.24 109.39 M276.28 99.35 L275.63 99.97 L276.28 100.60 L276.93 99.97 L276.93 99.35 L276.28 98.09 L274.97 97.46 L273.02 97.46 L271.06 98.09 L269.76 99.35 L269.11 100.60 L268.45 103.11 L268.45 106.88 L269.11 108.77 L270.41 110.02 L272.37 110.65 L273.67 110.65 L275.63 110.02 L276.93 108.77 L277.58 106.88 L277.58 106.25 L276.93 104.37 L275.63 103.11 L273.67 102.49 L273.02 102.49 L271.06 103.11 L269.76 104.37 L269.11 106.25 M273.02 97.46 L271.71 98.09 L270.41 99.35 L269.76 100.60 L269.11 103.11 L269.11 106.88 L269.76 108.77 L271.06 110.02 L272.37 110.65 M273.67 110.65 L274.97 110.02 L276.28 108.77 L276.93 106.88 L276.93 106.25 L276.28 104.37 L274.97 103.11 L273.67 102.49" fill="none" stroke="#000" stroke-width="1.60" stroke-linecap="round" stroke-linejoin="round"/>
<path d="M318.48 94.95 L317.12 96.21 L315.78 98.09 L314.43 100.60 L313.75 103.74 L313.75 106.25 L314.43 109.39 L315.78 111.91 L317.12 113.79 L318.48 115.05 M317.12 96.21 L315.78 98.72 L315.10 100.60 L314.43 103.74 L314.43 106.25 L315.10 109.39 L315.78 111.28 L317.12 113.79 M323.20 97.46 L322.53 101.86 M323.88 97.46 L322.53 101.86 M328.60 97.46 L327.93 101.86 M329.28 97.46 L327.93 101.86 M334.68 101.86 L334.68 108.77 L335.35 110.02 L337.38 110.65 L338.73 110.65 L340.75 110.02 L342.10 108.77 M335.35 101.86 L335.35 108.77 L336.03 110.02 L337.38 110.65 M342.10 101.86 L342.10 110.65 M342.78 101.86 L342.78 110.65 M332.65 101.86 L335.35 101.86 M340.07 101.86 L342.78 101.86 M342.10 110.65 L344.80 110.65 M349.53 101.86 L349.53 115.05 M350.20 101.86 L350.20 115.05 M350.20 103.74 L351.55 102.49 L352.90 101.86 L354.25 101.86 L356.28 102.49 L357.62 103.74 L358.30 105.63 L358.30 106.88 L357.62 108.77 L356.28 110.02 L354.25 110.65 L352.90 110.65 L351.55 110.02 L350.20 108.77 M354.25 101.86 L355.60 102.49 L356.95 103.74 L357.62 105.63 L357.62 106.88 L356.95 108.77 L355.60 110.02 L354.25 110.65 M347.50 101.86 L350.20 101.86 M347.50 115.05 L352.23 115.05 M363.03 97.46 L362.35 101.86 M363.70 97.46 L362.35 101.86 M368.43 97.46 L367.75 101.86 M369.10 97.46 L367.75 101.86 M373.15 94.95 L374.50 96.21 L375.85 98.09 L377.20 100.60 L377.88 103.74 L377.88 106.25 L377.20 109.39 L375.85 111.91 L374.50 113.79 L373.15 115.05 M374.50 96.21 L375.85 98.72 L376.53 100.60 L377.20 103.74 L377.20 106.25 L376.53 109.39 L375.85 111.28 L374.50 113.79" fill="none" stroke="#000" stroke-width="1.60" stroke-linecap="round" stroke-linejoin="round"/>
<path d="M257.70 247.72 L259.01 246.46 L260.96 245.84 L260.31 245.21 L259.01 245.84 L257.70 247.72 L257.05 249.60 L257.05 251.49 L257.70 253.37 L258.35 254.00 L259.66 254.00 L260.96 253.37 L262.27 251.49 L262.92 249.60 M257.05 251.49 L257.70 252.74 L258.35 253.37 L259.66 253.37 L260.96 252.74 L262.27 251.49 M262.27 249.60 L262.27 251.49 L262.92 253.37 L263.57 254.00 L264.87 254.00 L266.18 253.37 L267.48 251.49 L268.13 249.60 L268.13 247.72 L267.48 245.84 L266.83 245.21 L266.18 245.84 L267.48 246.46 L268.13 247.72 M262.27 251.49 L262.92 252.74 L263.57 253.37 L264.87 253.37 L266.18 252.74 L267.48 251.49" fill="none" stroke="#000" stroke-width="1.60" stroke-linecap="round" stroke-linejoin="round"/>
<path d="M284.55 246.46 L294.86 246.46 M284.55 250.23 L294.86 250.23" fill="none" stroke="#000" stroke-width="1.60" stroke-linecap="round" stroke-linejoin="round"/>
<path d="M312.10 243.32 L312.75 243.95 L312.10 244.58 L311.45 243.95 L311.45 243.32 L312.10 242.07 L312.75 241.44 L314.71 240.81 L317.32 240.81 L319.27 241.44 L319.93 242.07 L320.58 243.32 L320.58 244.58 L319.93 245.84 L317.97 247.09 L314.71 248.35 L313.41 248.98 L312.10 250.23 L311.45 252.12 L311.45 254.00 M317.32 240.81 L318.62 241.44 L319.27 242.07 L319.93 243.32 L319.93 244.58 L319.27 245.84 L317.32 247.09 L314.71 248.35 M311.45 252.74 L312.10 252.12 L313.41 252.12 L316.67 253.37 L318.62 253.37 L319.93 252.74 L320.58 252.12 M313.41 252.12 L316.67 254.00 L319.27 254.00 L319.93 253.37 L320.58 252.12 L320.58 250.86 M325.79 252.74 L325.14 253.37 L325.79 254.00 L326.45 253.37 L325.79 252.74 M338.83 242.70 L338.18 243.32 L338.83 243.95 L339.49 243.32 L339.49 242.70 L338.83 241.44 L337.53 240.81 L335.57 240.81 L333.62 241.44 L332.31 242.70 L331.66 243.95 L331.01 246.46 L331.01 250.23 L331.66 252.12 L332.97 253.37 L334.92 254.00 L336.23 254.00 L338.18 253.37 L339.49 252.12 L340.14 250.23 L340.14 249.60 L339.49 247.72 L338.18 246.46 L336.23 245.84 L335.57 245.84 L333.62 246.46 L332.31 247.72 L331.66 249.60 M335.57 240.81 L334.27 241.44 L332.97 242.70 L332.31 243.95 L331.66 246.46 L331.66 250.23 L332.31 252.12 L333.62 253.37 L334.92 254.00 M336.23 254.00 L337.53 253.37 L338.83 252.12 L339.49 250.23 L339.49 249.60 L338.83 247.72 L337.53 246.46 L336.23 245.84" fill="none" stroke="#000" stroke-width="1.60" stroke-linecap="round" stroke-linejoin="round"/>
<path d="M257.70 435.97 L259.01 434.71 L260.96 434.09 L260.31 433.46 L259.01 434.09 L257.70 435.97 L257.05 437.85 L257.05 439.74 L257.70 441.62 L258.35 442.25 L259.66 442.25 L260.96 441.62 L262.27 439.74 L262.92 437.85 M257.05 439.74 L257.70 440.99 L258.35 441.62 L259.66 441.62 L260.96 440.99 L262.27 439.74 M262.27 437.85 L262.27 439.74 L262.92 441.62 L263.57 442.25 L264.87 442.25 L266.18 441.62 L267.48 439.74 L268.13 437.85 L268.13 435.97 L267.48 434.09 L266.83 433.46 L266.18 434.09 L267.48 434.71 L268.13 435.97 M262.27 439.74 L262.92 440.99 L263.57 441.62 L264.87 441.62 L266.18 440.99 L267.48 439.74" fill="none" stroke="#000" stroke-width="1.60" stroke-linecap="round" stroke-linejoin="round"/>
<path d="M284.85 434.71 L295.16 434.71 M284.85 438.48 L295.16 438.48" fill="none" stroke="#000" stroke-width="1.60" stroke-linecap="round" stroke-linejoin="round"/>
<path d="M311.90 431.57 L312.55 432.20 L311.90 432.83 L311.25 432.20 L311.25 431.57 L311.90 430.32 L312.55 429.69 L314.51 429.06 L317.12 429.06 L319.07 429.69 L319.73 430.95 L319.73 432.83 L319.07 434.09 L317.12 434.71 L315.16 434.71 M317.12 429.06 L318.42 429.69 L319.07 430.95 L319.07 432.83 L318.42 434.09 L317.12 434.71 M317.12 434.71 L318.42 435.34 L319.73 436.60 L320.38 437.85 L320.38 439.74 L319.73 440.99 L319.07 441.62 L317.12 442.25 L314.51 442.25 L312.55 441.62 L311.90 440.99 L311.25 439.74 L311.25 439.11 L311.90 438.48 L312.55 439.11 L311.90 439.74 M319.07 435.97 L319.73 437.85 L319.73 439.74 L319.07 440.99 L318.42 441.62 L317.12 442.25 M325.59 440.99 L324.94 441.62 L325.59 442.25 L326.25 441.62 L325.59 440.99 M338.63 430.95 L337.98 431.57 L338.63 432.20 L339.29 431.57 L339.29 430.95 L338.63 429.69 L337.33 429.06 L335.37 429.06 L333.42 429.69 L332.11 430.95 L331.46 432.20 L330.81 434.71 L330.81 438.48 L331.46 440.37 L332.77 441.62 L334.72 442.25 L336.03 442.25 L337.98 441.62 L339.29 440.37 L339.94 438.48 L339.94 437.85 L339.29 435.97 L337.98 434.71 L336.03 434.09 L335.37 434.09 L333.42 434.71 L332.11 435.97 L331.46 437.85 M335.37 429.06 L334.07 429.69 L332.77 430.95 L332.11 432.20 L331.46 434.71 L331.46 438.48 L332.11 440.37 L333.42 441.62 L334.72 442.25 M336.03 442.25 L337.33 441.62 L338.63 440.37 L339.29 438.48 L339.29 437.85 L338.63 435.97 L337.33 434.71 L336.03 434.09" fill="none" stroke="#000" stroke-width="1.60" stroke-linecap="round" stroke-linejoin="round"/>
<path d="M381.56 426.55 L380.23 427.81 L378.90 429.69 L377.57 432.20 L376.90 435.34 L376.90 437.85 L377.57 440.99 L378.90 443.51 L380.23 445.39 L381.56 446.65 M380.23 427.81 L378.90 430.32 L378.23 432.20 L377.57 435.34 L377.57 437.85 L378.23 440.99 L378.90 442.88 L380.23 445.39 M386.22 429.06 L385.56 433.46 M386.89 429.06 L385.56 433.46 M391.55 429.06 L390.89 433.46 M392.22 429.06 L390.89 433.46 M404.21 429.06 L404.21 442.25 M404.87 429.06 L404.87 442.25 M404.21 435.34 L402.87 434.09 L401.54 433.46 L400.21 433.46 L398.21 434.09 L396.88 435.34 L396.21 437.23 L396.21 438.48 L396.88 440.37 L398.21 441.62 L400.21 442.25 L401.54 442.25 L402.87 441.62 L404.21 440.37 M400.21 433.46 L398.88 434.09 L397.55 435.34 L396.88 437.23 L396.88 438.48 L397.55 440.37 L398.88 441.62 L400.21 442.25 M402.21 429.06 L404.87 429.06 M404.21 442.25 L406.87 442.25 M414.20 433.46 L412.20 434.09 L410.87 435.34 L410.20 437.23 L410.20 438.48 L410.87 440.37 L412.20 441.62 L414.20 442.25 L415.53 442.25 L417.53 441.62 L418.86 440.37 L419.52 438.48 L419.52 437.23 L418.86 435.34 L417.53 434.09 L415.53 433.46 L414.20 433.46 M414.20 433.46 L412.86 434.09 L411.53 435.34 L410.87 437.23 L410.87 438.48 L411.53 440.37 L412.86 441.62 L414.20 442.25 M415.53 442.25 L416.86 441.62 L418.19 440.37 L418.86 438.48 L418.86 437.23 L418.19 435.34 L416.86 434.09 L415.53 433.46 M424.19 433.46 L426.85 442.25 M424.85 433.46 L426.85 440.37 M429.51 433.46 L426.85 442.25 M429.51 433.46 L432.18 442.25 M430.18 433.46 L432.18 440.37 M434.84 433.46 L432.18 442.25 M422.19 433.46 L426.85 433.46 M432.84 433.46 L436.84 433.46 M440.84 433.46 L440.84 442.25 M441.50 433.46 L441.50 442.25 M441.50 435.34 L442.83 434.09 L444.83 433.46 L446.16 433.46 L448.16 434.09 L448.83 435.34 L448.83 442.25 M446.16 433.46 L447.50 434.09 L448.16 435.34 L448.16 442.25 M438.84 433.46 L441.50 433.46 M438.84 442.25 L443.50 442.25 M446.16 442.25 L450.83 442.25 M454.82 429.06 L454.16 433.46 M455.49 429.06 L454.16 433.46 M460.15 429.06 L459.48 433.46 M460.82 429.06 L459.48 433.46 M464.81 426.55 L466.14 427.81 L467.48 429.69 L468.81 432.20 L469.47 435.34 L469.47 437.85 L468.81 440.99 L467.48 443.51 L466.14 445.39 L464.81 446.65 M466.14 427.81 L467.48 430.32 L468.14 432.20 L468.81 435.34 L468.81 437.85 L468.14 440.99 L467.48 442.88 L466.14 445.39" fill="none" stroke="#000" stroke-width="1.60" stroke-linecap="round" stroke-linejoin="round"/>
<path d="M614.51 876.19 L611.87 877.05 L610.11 878.77 L609.23 880.49 L608.35 883.93 L608.35 886.51 L609.23 889.95 L610.11 891.67 L611.87 893.39 L614.51 894.25 L616.27 894.25 L618.91 893.39 L620.67 891.67 L621.55 889.95 L622.43 886.51 L622.43 883.93 L621.55 880.49 L620.67 878.77 L618.91 877.05 L616.27 876.19 L614.51 876.19 M614.51 876.19 L612.75 877.05 L610.99 878.77 L610.11 880.49 L609.23 883.93 L609.23 886.51 L610.11 889.95 L610.99 891.67 L612.75 893.39 L614.51 894.25 M616.27 894.25 L618.03 893.39 L619.79 891.67 L620.67 889.95 L621.55 886.51 L621.55 883.93 L620.67 880.49 L619.79 878.77 L618.03 877.05 L616.27 876.19 M611.87 892.53 L611.87 891.67 L612.75 889.95 L614.51 889.09 L615.39 889.09 L617.15 889.95 L618.03 891.67 L618.91 897.69 L619.79 898.55 L621.55 898.55 L622.43 896.83 L622.43 895.97 M618.03 891.67 L618.91 895.11 L619.79 896.83 L620.67 897.69 L621.55 897.69 L622.43 896.83" fill="none" stroke="#000" stroke-width="1.60" stroke-linecap="round" stroke-linejoin="round"/>
<path d="M628.66 890.01 L628.66 901.25 M629.19 890.01 L629.19 901.25 M629.19 895.37 L630.27 894.29 L631.87 893.76 L632.95 893.76 L634.55 894.29 L635.09 895.37 L635.09 901.25 M632.95 893.76 L634.02 894.29 L634.55 895.37 L634.55 901.25 M627.05 890.01 L629.19 890.01 M627.05 901.25 L630.80 901.25 M632.95 901.25 L636.70 901.25 M639.91 896.97 L646.35 896.97 L646.35 895.90 L645.81 894.83 L645.27 894.29 L644.20 893.76 L642.59 893.76 L640.99 894.29 L639.91 895.37 L639.38 896.97 L639.38 898.04 L639.91 899.64 L640.99 900.72 L642.59 901.25 L643.67 901.25 L645.27 900.72 L646.35 899.64 M645.81 896.97 L645.81 895.37 L645.27 894.29 M642.59 893.76 L641.52 894.29 L640.45 895.37 L639.91 896.97 L639.91 898.04 L640.45 899.64 L641.52 900.72 L642.59 901.25 M650.63 894.83 L650.63 895.37 L650.10 895.37 L650.10 894.83 L650.63 894.29 L651.71 893.76 L653.85 893.76 L654.92 894.29 L655.46 894.83 L655.99 895.90 L655.99 899.64 L656.53 900.72 L657.07 901.25 M655.46 894.83 L655.46 899.64 L655.99 900.72 L657.07 901.25 L657.60 901.25 M655.46 895.90 L654.92 896.43 L651.71 896.97 L650.10 897.50 L649.56 898.58 L649.56 899.64 L650.10 900.72 L651.71 901.25 L653.31 901.25 L654.39 900.72 L655.46 899.64 M651.71 896.97 L650.63 897.50 L650.10 898.58 L650.10 899.64 L650.63 900.72 L651.71 901.25 M661.35 890.01 L661.35 899.11 L661.89 900.72 L662.96 901.25 L664.03 901.25 L665.11 900.72 L665.64 899.64 M661.89 890.01 L661.89 899.11 L662.43 900.72 L662.96 901.25 M659.75 893.76 L664.03 893.76" fill="none" stroke="#000" stroke-width="1.60" stroke-linecap="round" stroke-linejoin="round"/>
<path d="M357.35 850.69 L354.65 851.55 L352.85 853.27 L351.95 854.99 L351.05 858.43 L351.05 861.01 L351.95 864.45 L352.85 866.17 L354.65 867.89 L357.35 868.75 L359.15 868.75 L361.85 867.89 L363.65 866.17 L364.55 864.45 L365.45 861.01 L365.45 858.43 L364.55 854.99 L363.65 853.27 L361.85 851.55 L359.15 850.69 L357.35 850.69 M357.35 850.69 L355.55 851.55 L353.75 853.27 L352.85 854.99 L351.95 858.43 L351.95 861.01 L352.85 864.45 L353.75 866.17 L355.55 867.89 L357.35 868.75 M359.15 868.75 L360.95 867.89 L362.75 866.17 L363.65 864.45 L364.55 861.01 L364.55 858.43 L363.65 854.99 L362.75 853.27 L360.95 851.55 L359.15 850.69 M354.65 867.03 L354.65 866.17 L355.55 864.45 L357.35 863.59 L358.25 863.59 L360.05 864.45 L360.95 866.17 L361.85 872.19 L362.75 873.05 L364.55 873.05 L365.45 871.33 L365.45 870.47 M360.95 866.17 L361.85 869.61 L362.75 871.33 L363.65 872.19 L364.55 872.19 L365.45 871.33" fill="none" stroke="#4fb645" stroke-width="2.40" stroke-linecap="round" stroke-linejoin="round"/>
<path d="M371.75 868.11 L371.75 875.60 M372.27 868.11 L372.27 875.60 M372.27 871.32 L372.79 869.72 L373.82 868.64 L374.85 868.11 L376.40 868.11 L376.92 868.64 L376.92 869.18 L376.40 869.72 L375.89 869.18 L376.40 868.64 M370.20 868.11 L372.27 868.11 M370.20 875.60 L373.82 875.60 M380.54 869.18 L380.54 869.72 L380.02 869.72 L380.02 869.18 L380.54 868.64 L381.57 868.11 L383.64 868.11 L384.68 868.64 L385.19 869.18 L385.71 870.25 L385.71 874.00 L386.23 875.07 L386.74 875.60 M385.19 869.18 L385.19 874.00 L385.71 875.07 L386.74 875.60 L387.26 875.60 M385.19 870.25 L384.68 870.78 L381.57 871.32 L380.02 871.86 L379.51 872.93 L379.51 874.00 L380.02 875.07 L381.57 875.60 L383.12 875.60 L384.16 875.07 L385.19 874.00 M381.57 871.32 L380.54 871.86 L380.02 872.93 L380.02 874.00 L380.54 875.07 L381.57 875.60 M396.05 864.37 L396.05 875.60 M396.57 864.37 L396.57 875.60 M396.05 869.72 L395.02 868.64 L393.98 868.11 L392.95 868.11 L391.40 868.64 L390.36 869.72 L389.85 871.32 L389.85 872.39 L390.36 874.00 L391.40 875.07 L392.95 875.60 L393.98 875.60 L395.02 875.07 L396.05 874.00 M392.95 868.11 L391.91 868.64 L390.88 869.72 L390.36 871.32 L390.36 872.39 L390.88 874.00 L391.91 875.07 L392.95 875.60 M394.50 864.37 L396.57 864.37 M396.05 875.60 L398.12 875.60" fill="none" stroke="#4fb645" stroke-width="2.10" stroke-linecap="round" stroke-linejoin="round"/>
<path d="M345.1 848 V867.3 M405.1 848 V867.3" stroke="#4fb645" stroke-width="2.3" fill="none" stroke-linecap="round"/>
</svg>
</body></html>
